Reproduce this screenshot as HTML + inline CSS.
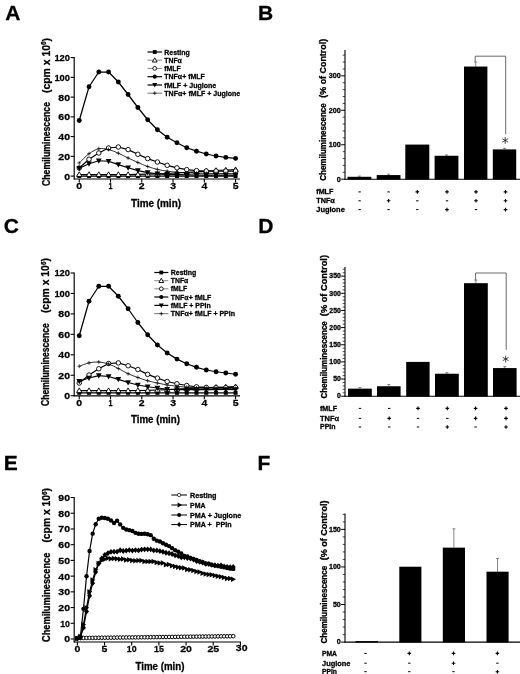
<!DOCTYPE html>
<html><head><meta charset="utf-8"><title>Figure</title>
<style>html,body{margin:0;padding:0;background:#fff}svg{display:block}</style>
</head><body>
<svg width="520" height="674" viewBox="0 0 520 674" font-family="Liberation Sans, sans-serif" font-weight="bold" fill="#000">
<defs><filter id="soft" x="-2%" y="-2%" width="104%" height="104%"><feGaussianBlur stdDeviation="0.38"/></filter></defs>
<rect width="520" height="674" fill="#fff"/>
<g filter="url(#soft)" stroke-linejoin="round">
<style>text{stroke:#000;stroke-width:0.3px;paint-order:stroke}</style>
<text transform="translate(5.30,20.00) scale(1,1)" font-size="21.0" text-anchor="start" >A</text>
<text transform="translate(258.00,20.00) scale(1,1)" font-size="21.0" text-anchor="start" >B</text>
<text transform="translate(3.80,233.00) scale(1,1)" font-size="21.0" text-anchor="start" >C</text>
<text transform="translate(258.20,232.60) scale(1,1)" font-size="21.0" text-anchor="start" >D</text>
<text transform="translate(3.80,470.20) scale(1,1)" font-size="21.0" text-anchor="start" >E</text>
<text transform="translate(257.50,469.80) scale(1,1)" font-size="21.0" text-anchor="start" >F</text>
<line x1="74.20" y1="57.00" x2="74.20" y2="179.50" stroke="#000" stroke-width="1.15"/>
<line x1="73.70" y1="179.00" x2="240.00" y2="179.00" stroke="#000" stroke-width="1.15"/>
<line x1="70.60" y1="176.10" x2="74.20" y2="176.10" stroke="#000" stroke-width="1.1"/>
<text transform="translate(70.00,179.50) scale(1,0.93)" font-size="10.5" text-anchor="end" textLength="5.84" lengthAdjust="spacingAndGlyphs" >0</text>
<line x1="70.60" y1="156.35" x2="74.20" y2="156.35" stroke="#000" stroke-width="1.1"/>
<text transform="translate(70.00,159.75) scale(1,0.93)" font-size="10.5" text-anchor="end" textLength="11.68" lengthAdjust="spacingAndGlyphs" >20</text>
<line x1="70.60" y1="136.60" x2="74.20" y2="136.60" stroke="#000" stroke-width="1.1"/>
<text transform="translate(70.00,140.00) scale(1,0.93)" font-size="10.5" text-anchor="end" textLength="11.68" lengthAdjust="spacingAndGlyphs" >40</text>
<line x1="70.60" y1="116.85" x2="74.20" y2="116.85" stroke="#000" stroke-width="1.1"/>
<text transform="translate(70.00,120.25) scale(1,0.93)" font-size="10.5" text-anchor="end" textLength="11.68" lengthAdjust="spacingAndGlyphs" >60</text>
<line x1="70.60" y1="97.10" x2="74.20" y2="97.10" stroke="#000" stroke-width="1.1"/>
<text transform="translate(70.00,100.50) scale(1,0.93)" font-size="10.5" text-anchor="end" textLength="11.68" lengthAdjust="spacingAndGlyphs" >80</text>
<line x1="70.60" y1="77.35" x2="74.20" y2="77.35" stroke="#000" stroke-width="1.1"/>
<text transform="translate(70.00,80.75) scale(1,0.93)" font-size="10.5" text-anchor="end" textLength="15.62" lengthAdjust="spacingAndGlyphs" >100</text>
<line x1="70.60" y1="57.60" x2="74.20" y2="57.60" stroke="#000" stroke-width="1.1"/>
<text transform="translate(70.00,61.00) scale(1,0.93)" font-size="10.5" text-anchor="end" textLength="15.62" lengthAdjust="spacingAndGlyphs" >120</text>
<line x1="79.25" y1="179.00" x2="79.25" y2="182.50" stroke="#000" stroke-width="1.1"/>
<text transform="translate(79.25,188.90) scale(1,0.93)" font-size="10.5" text-anchor="middle" textLength="5.84" lengthAdjust="spacingAndGlyphs" >0</text>
<line x1="110.51" y1="179.00" x2="110.51" y2="182.50" stroke="#000" stroke-width="1.1"/>
<text transform="translate(110.51,188.90) scale(1,0.93)" font-size="10.5" text-anchor="middle" textLength="3.95" lengthAdjust="spacingAndGlyphs" >1</text>
<line x1="141.78" y1="179.00" x2="141.78" y2="182.50" stroke="#000" stroke-width="1.1"/>
<text transform="translate(141.78,188.90) scale(1,0.93)" font-size="10.5" text-anchor="middle" textLength="5.84" lengthAdjust="spacingAndGlyphs" >2</text>
<line x1="173.04" y1="179.00" x2="173.04" y2="182.50" stroke="#000" stroke-width="1.1"/>
<text transform="translate(173.04,188.90) scale(1,0.93)" font-size="10.5" text-anchor="middle" textLength="5.84" lengthAdjust="spacingAndGlyphs" >3</text>
<line x1="204.31" y1="179.00" x2="204.31" y2="182.50" stroke="#000" stroke-width="1.1"/>
<text transform="translate(204.31,188.90) scale(1,0.93)" font-size="10.5" text-anchor="middle" textLength="5.84" lengthAdjust="spacingAndGlyphs" >4</text>
<line x1="235.57" y1="179.00" x2="235.57" y2="182.50" stroke="#000" stroke-width="1.1"/>
<text transform="translate(235.57,188.90) scale(1,0.93)" font-size="10.5" text-anchor="middle" textLength="5.84" lengthAdjust="spacingAndGlyphs" >5</text>
<polyline points="79.25,176.00 89.02,176.00 98.79,176.00 108.56,176.00 118.33,176.00 128.10,176.00 137.87,176.00 147.64,176.00 157.41,176.00 167.18,176.00 176.95,176.00 186.72,176.00 196.49,176.00 206.26,176.00 216.03,176.00 225.80,176.00 235.57,176.00" fill="none" stroke="#000" stroke-width="1.25" stroke-linejoin="round"/>
<rect x="77.25" y="174.00" width="4.0" height="4.0" fill="#000"/>
<rect x="87.02" y="174.00" width="4.0" height="4.0" fill="#000"/>
<rect x="96.79" y="174.00" width="4.0" height="4.0" fill="#000"/>
<rect x="106.56" y="174.00" width="4.0" height="4.0" fill="#000"/>
<rect x="116.33" y="174.00" width="4.0" height="4.0" fill="#000"/>
<rect x="126.10" y="174.00" width="4.0" height="4.0" fill="#000"/>
<rect x="135.87" y="174.00" width="4.0" height="4.0" fill="#000"/>
<rect x="145.64" y="174.00" width="4.0" height="4.0" fill="#000"/>
<rect x="155.41" y="174.00" width="4.0" height="4.0" fill="#000"/>
<rect x="165.18" y="174.00" width="4.0" height="4.0" fill="#000"/>
<rect x="174.95" y="174.00" width="4.0" height="4.0" fill="#000"/>
<rect x="184.72" y="174.00" width="4.0" height="4.0" fill="#000"/>
<rect x="194.49" y="174.00" width="4.0" height="4.0" fill="#000"/>
<rect x="204.26" y="174.00" width="4.0" height="4.0" fill="#000"/>
<rect x="214.03" y="174.00" width="4.0" height="4.0" fill="#000"/>
<rect x="223.80" y="174.00" width="4.0" height="4.0" fill="#000"/>
<rect x="233.57" y="174.00" width="4.0" height="4.0" fill="#000"/>
<polyline points="79.25,174.50 89.02,174.50 98.79,174.50 108.56,174.50 118.33,174.50 128.10,174.50 137.87,174.40 147.64,174.20 157.41,173.90 167.18,173.50 176.95,173.00 186.72,172.40 196.49,171.80 206.26,171.10 216.03,170.50 225.80,170.00 235.57,169.60" fill="none" stroke="#000" stroke-width="1.25" stroke-linejoin="round"/>
<path d="M79.25,171.80 L81.95,176.53 L76.55,176.53 Z" fill="#fff" stroke="#000" stroke-width="0.9"/>
<path d="M89.02,171.80 L91.72,176.53 L86.32,176.53 Z" fill="#fff" stroke="#000" stroke-width="0.9"/>
<path d="M98.79,171.80 L101.49,176.53 L96.09,176.53 Z" fill="#fff" stroke="#000" stroke-width="0.9"/>
<path d="M108.56,171.80 L111.26,176.53 L105.86,176.53 Z" fill="#fff" stroke="#000" stroke-width="0.9"/>
<path d="M118.33,171.80 L121.03,176.53 L115.63,176.53 Z" fill="#fff" stroke="#000" stroke-width="0.9"/>
<path d="M128.10,171.80 L130.80,176.53 L125.40,176.53 Z" fill="#fff" stroke="#000" stroke-width="0.9"/>
<path d="M137.87,171.70 L140.57,176.43 L135.17,176.43 Z" fill="#fff" stroke="#000" stroke-width="0.9"/>
<path d="M147.64,171.50 L150.34,176.22 L144.94,176.22 Z" fill="#fff" stroke="#000" stroke-width="0.9"/>
<path d="M157.41,171.20 L160.11,175.93 L154.71,175.93 Z" fill="#fff" stroke="#000" stroke-width="0.9"/>
<path d="M167.18,170.80 L169.88,175.53 L164.48,175.53 Z" fill="#fff" stroke="#000" stroke-width="0.9"/>
<path d="M176.95,170.30 L179.65,175.03 L174.25,175.03 Z" fill="#fff" stroke="#000" stroke-width="0.9"/>
<path d="M186.72,169.70 L189.42,174.43 L184.02,174.43 Z" fill="#fff" stroke="#000" stroke-width="0.9"/>
<path d="M196.49,169.10 L199.19,173.83 L193.79,173.83 Z" fill="#fff" stroke="#000" stroke-width="0.9"/>
<path d="M206.26,168.40 L208.96,173.12 L203.56,173.12 Z" fill="#fff" stroke="#000" stroke-width="0.9"/>
<path d="M216.03,167.80 L218.73,172.53 L213.33,172.53 Z" fill="#fff" stroke="#000" stroke-width="0.9"/>
<path d="M225.80,167.30 L228.50,172.03 L223.10,172.03 Z" fill="#fff" stroke="#000" stroke-width="0.9"/>
<path d="M235.57,166.90 L238.27,171.62 L232.87,171.62 Z" fill="#fff" stroke="#000" stroke-width="0.9"/>
<polyline points="79.25,168.00 89.02,159.25 98.79,153.00 108.56,148.00 118.33,147.00 128.10,149.60 137.87,154.30 147.64,158.60 157.41,162.00 167.18,165.30 176.95,167.80 186.72,169.60 196.49,170.60 206.26,171.00 216.03,171.00 225.80,171.00 235.57,171.00" fill="none" stroke="#000" stroke-width="1.25" stroke-linejoin="round"/>
<circle cx="79.25" cy="168.00" r="2.25" fill="#fff" stroke="#000" stroke-width="0.9"/>
<circle cx="89.02" cy="159.25" r="2.25" fill="#fff" stroke="#000" stroke-width="0.9"/>
<circle cx="98.79" cy="153.00" r="2.25" fill="#fff" stroke="#000" stroke-width="0.9"/>
<circle cx="108.56" cy="148.00" r="2.25" fill="#fff" stroke="#000" stroke-width="0.9"/>
<circle cx="118.33" cy="147.00" r="2.25" fill="#fff" stroke="#000" stroke-width="0.9"/>
<circle cx="128.10" cy="149.60" r="2.25" fill="#fff" stroke="#000" stroke-width="0.9"/>
<circle cx="137.87" cy="154.30" r="2.25" fill="#fff" stroke="#000" stroke-width="0.9"/>
<circle cx="147.64" cy="158.60" r="2.25" fill="#fff" stroke="#000" stroke-width="0.9"/>
<circle cx="157.41" cy="162.00" r="2.25" fill="#fff" stroke="#000" stroke-width="0.9"/>
<circle cx="167.18" cy="165.30" r="2.25" fill="#fff" stroke="#000" stroke-width="0.9"/>
<circle cx="176.95" cy="167.80" r="2.25" fill="#fff" stroke="#000" stroke-width="0.9"/>
<circle cx="186.72" cy="169.60" r="2.25" fill="#fff" stroke="#000" stroke-width="0.9"/>
<circle cx="196.49" cy="170.60" r="2.25" fill="#fff" stroke="#000" stroke-width="0.9"/>
<circle cx="206.26" cy="171.00" r="2.25" fill="#fff" stroke="#000" stroke-width="0.9"/>
<circle cx="216.03" cy="171.00" r="2.25" fill="#fff" stroke="#000" stroke-width="0.9"/>
<circle cx="225.80" cy="171.00" r="2.25" fill="#fff" stroke="#000" stroke-width="0.9"/>
<circle cx="235.57" cy="171.00" r="2.25" fill="#fff" stroke="#000" stroke-width="0.9"/>
<polyline points="79.25,120.50 89.02,86.75 98.79,72.00 108.56,72.00 118.33,82.00 128.10,94.50 137.87,107.50 147.64,119.75 157.41,129.75 167.18,137.25 176.95,142.75 186.72,147.75 196.49,151.20 206.26,154.00 216.03,156.00 225.80,157.40 235.57,158.40" fill="none" stroke="#000" stroke-width="1.25" stroke-linejoin="round"/>
<circle cx="79.25" cy="120.50" r="2.45" fill="#000"/>
<circle cx="89.02" cy="86.75" r="2.45" fill="#000"/>
<circle cx="98.79" cy="72.00" r="2.45" fill="#000"/>
<circle cx="108.56" cy="72.00" r="2.45" fill="#000"/>
<circle cx="118.33" cy="82.00" r="2.45" fill="#000"/>
<circle cx="128.10" cy="94.50" r="2.45" fill="#000"/>
<circle cx="137.87" cy="107.50" r="2.45" fill="#000"/>
<circle cx="147.64" cy="119.75" r="2.45" fill="#000"/>
<circle cx="157.41" cy="129.75" r="2.45" fill="#000"/>
<circle cx="167.18" cy="137.25" r="2.45" fill="#000"/>
<circle cx="176.95" cy="142.75" r="2.45" fill="#000"/>
<circle cx="186.72" cy="147.75" r="2.45" fill="#000"/>
<circle cx="196.49" cy="151.20" r="2.45" fill="#000"/>
<circle cx="206.26" cy="154.00" r="2.45" fill="#000"/>
<circle cx="216.03" cy="156.00" r="2.45" fill="#000"/>
<circle cx="225.80" cy="157.40" r="2.45" fill="#000"/>
<circle cx="235.57" cy="158.40" r="2.45" fill="#000"/>
<polyline points="79.25,168.30 89.02,163.75 98.79,160.75 108.56,161.25 118.33,164.60 128.10,167.75 137.87,170.60 147.64,172.60 157.41,173.80 167.18,174.40 176.95,174.70 186.72,174.90 196.49,175.00 206.26,175.00 216.03,175.00 225.80,175.00 235.57,175.00" fill="none" stroke="#000" stroke-width="1.25" stroke-linejoin="round"/>
<path d="M79.25,171.20 L82.15,165.98 L76.35,165.98 Z" fill="#000"/>
<path d="M89.02,166.65 L91.92,161.43 L86.12,161.43 Z" fill="#000"/>
<path d="M98.79,163.65 L101.69,158.43 L95.89,158.43 Z" fill="#000"/>
<path d="M108.56,164.15 L111.46,158.93 L105.66,158.93 Z" fill="#000"/>
<path d="M118.33,167.50 L121.23,162.28 L115.43,162.28 Z" fill="#000"/>
<path d="M128.10,170.65 L131.00,165.43 L125.20,165.43 Z" fill="#000"/>
<path d="M137.87,173.50 L140.77,168.28 L134.97,168.28 Z" fill="#000"/>
<path d="M147.64,175.50 L150.54,170.28 L144.74,170.28 Z" fill="#000"/>
<path d="M157.41,176.70 L160.31,171.48 L154.51,171.48 Z" fill="#000"/>
<path d="M167.18,177.30 L170.08,172.08 L164.28,172.08 Z" fill="#000"/>
<path d="M176.95,177.60 L179.85,172.38 L174.05,172.38 Z" fill="#000"/>
<path d="M186.72,177.80 L189.62,172.58 L183.82,172.58 Z" fill="#000"/>
<path d="M196.49,177.90 L199.39,172.68 L193.59,172.68 Z" fill="#000"/>
<path d="M206.26,177.90 L209.16,172.68 L203.36,172.68 Z" fill="#000"/>
<path d="M216.03,177.90 L218.93,172.68 L213.13,172.68 Z" fill="#000"/>
<path d="M225.80,177.90 L228.70,172.68 L222.90,172.68 Z" fill="#000"/>
<path d="M235.57,177.90 L238.47,172.68 L232.67,172.68 Z" fill="#000"/>
<path d="M79.25,163.00 C80.88,161.46 85.76,156.12 89.02,153.75 C92.28,151.38 95.53,149.46 98.79,148.75 C102.05,148.04 105.30,148.76 108.56,149.50 C111.82,150.24 115.07,151.78 118.33,153.20 C121.59,154.62 124.84,156.45 128.10,158.00 C131.36,159.55 134.61,161.08 137.87,162.50 C141.13,163.92 144.38,165.35 147.64,166.50 C150.90,167.65 154.15,168.62 157.41,169.40 C160.67,170.18 163.92,170.73 167.18,171.20 C170.44,171.67 173.69,171.93 176.95,172.20 C180.21,172.47 183.46,172.63 186.72,172.80 C189.98,172.97 193.23,173.10 196.49,173.20 C199.75,173.30 203.00,173.35 206.26,173.40 C209.52,173.45 212.77,173.48 216.03,173.50 C219.29,173.52 222.54,173.50 225.80,173.50 C229.06,173.50 233.94,173.50 235.57,173.50" fill="none" stroke="#000" stroke-width="0.8"/>
<path d="M77.35,163.00 H81.15 M79.25,161.10 V164.90" stroke="#000" stroke-width="0.7" fill="none"/>
<path d="M87.12,153.75 H90.92 M89.02,151.85 V155.65" stroke="#000" stroke-width="0.7" fill="none"/>
<path d="M96.89,148.75 H100.69 M98.79,146.85 V150.65" stroke="#000" stroke-width="0.7" fill="none"/>
<path d="M106.66,149.50 H110.46 M108.56,147.60 V151.40" stroke="#000" stroke-width="0.7" fill="none"/>
<path d="M116.43,153.20 H120.23 M118.33,151.30 V155.10" stroke="#000" stroke-width="0.7" fill="none"/>
<path d="M126.20,158.00 H130.00 M128.10,156.10 V159.90" stroke="#000" stroke-width="0.7" fill="none"/>
<path d="M135.97,162.50 H139.77 M137.87,160.60 V164.40" stroke="#000" stroke-width="0.7" fill="none"/>
<path d="M145.74,166.50 H149.54 M147.64,164.60 V168.40" stroke="#000" stroke-width="0.7" fill="none"/>
<path d="M155.51,169.40 H159.31 M157.41,167.50 V171.30" stroke="#000" stroke-width="0.7" fill="none"/>
<path d="M165.28,171.20 H169.08 M167.18,169.30 V173.10" stroke="#000" stroke-width="0.7" fill="none"/>
<path d="M175.05,172.20 H178.85 M176.95,170.30 V174.10" stroke="#000" stroke-width="0.7" fill="none"/>
<path d="M184.82,172.80 H188.62 M186.72,170.90 V174.70" stroke="#000" stroke-width="0.7" fill="none"/>
<path d="M194.59,173.20 H198.39 M196.49,171.30 V175.10" stroke="#000" stroke-width="0.7" fill="none"/>
<path d="M204.36,173.40 H208.16 M206.26,171.50 V175.30" stroke="#000" stroke-width="0.7" fill="none"/>
<path d="M214.13,173.50 H217.93 M216.03,171.60 V175.40" stroke="#000" stroke-width="0.7" fill="none"/>
<path d="M223.90,173.50 H227.70 M225.80,171.60 V175.40" stroke="#000" stroke-width="0.7" fill="none"/>
<path d="M233.67,173.50 H237.47 M235.57,171.60 V175.40" stroke="#000" stroke-width="0.7" fill="none"/>
<line x1="147.50" y1="52.00" x2="162.00" y2="52.00" stroke="#000" stroke-width="1.2"/>
<rect x="152.85" y="50.10" width="3.8" height="3.8" fill="#000"/>
<text transform="translate(164.30,54.50) scale(1,0.93)" font-size="7.7" text-anchor="start" textLength="25.50" lengthAdjust="spacingAndGlyphs" >Resting</text>
<line x1="147.50" y1="60.20" x2="162.00" y2="60.20" stroke="#555" stroke-width="0.7"/>
<path d="M154.75,57.80 L157.15,62.00 L152.35,62.00 Z" fill="#fff" stroke="#000" stroke-width="0.9"/>
<text transform="translate(164.30,62.70) scale(1,0.93)" font-size="7.7" text-anchor="start" textLength="17.50" lengthAdjust="spacingAndGlyphs" >TNF&#945;</text>
<line x1="147.50" y1="68.40" x2="162.00" y2="68.40" stroke="#555" stroke-width="0.7"/>
<circle cx="154.75" cy="68.40" r="1.9" fill="#fff" stroke="#000" stroke-width="0.9"/>
<text transform="translate(164.30,70.90) scale(1,0.93)" font-size="7.7" text-anchor="start" textLength="16.50" lengthAdjust="spacingAndGlyphs" >fMLF</text>
<line x1="147.50" y1="76.70" x2="162.00" y2="76.70" stroke="#000" stroke-width="1.2"/>
<circle cx="154.75" cy="76.70" r="2.1" fill="#000"/>
<text transform="translate(164.30,79.20) scale(1,0.93)" font-size="7.7" text-anchor="start" textLength="40.50" lengthAdjust="spacingAndGlyphs" >TNF&#945;+ fMLF</text>
<line x1="147.50" y1="85.00" x2="162.00" y2="85.00" stroke="#000" stroke-width="1.2"/>
<path d="M154.75,87.50 L157.25,83.00 L152.25,83.00 Z" fill="#000"/>
<text transform="translate(164.30,87.50) scale(1,0.93)" font-size="7.7" text-anchor="start" textLength="52.00" lengthAdjust="spacingAndGlyphs" >fMLF + Juglone</text>
<line x1="147.50" y1="93.20" x2="162.00" y2="93.20" stroke="#333" stroke-width="0.7"/>
<path d="M152.85,93.20 H156.65 M154.75,91.30 V95.10" stroke="#000" stroke-width="0.7" fill="none"/>
<text transform="translate(164.30,95.70) scale(1,0.93)" font-size="7.7" text-anchor="start" textLength="76.00" lengthAdjust="spacingAndGlyphs" >TNF&#945;+ fMLF + Juglone</text>
<text transform="translate(49.70,186.00) rotate(-90)" font-size="10.4" textLength="84.00" lengthAdjust="spacingAndGlyphs" >Chemiluminescence</text>
<text transform="translate(49.70,93.00) rotate(-90)" font-size="10.4" textLength="55.00" lengthAdjust="spacingAndGlyphs" >(cpm x 10<tspan font-size="6.3" dy="-3.5">6</tspan><tspan dy="3.5">)</tspan></text>
<text transform="translate(156.00,206.90) scale(1,1)" font-size="10.6" text-anchor="middle" textLength="50.00" lengthAdjust="spacingAndGlyphs" >Time (min)</text>
<line x1="74.20" y1="272.50" x2="74.20" y2="396.30" stroke="#000" stroke-width="1.15"/>
<line x1="73.70" y1="395.80" x2="240.00" y2="395.80" stroke="#000" stroke-width="1.15"/>
<line x1="70.60" y1="395.70" x2="74.20" y2="395.70" stroke="#000" stroke-width="1.1"/>
<text transform="translate(70.00,399.10) scale(1,0.93)" font-size="10.5" text-anchor="end" textLength="5.84" lengthAdjust="spacingAndGlyphs" >0</text>
<line x1="70.60" y1="375.25" x2="74.20" y2="375.25" stroke="#000" stroke-width="1.1"/>
<text transform="translate(70.00,378.65) scale(1,0.93)" font-size="10.5" text-anchor="end" textLength="11.68" lengthAdjust="spacingAndGlyphs" >20</text>
<line x1="70.60" y1="354.80" x2="74.20" y2="354.80" stroke="#000" stroke-width="1.1"/>
<text transform="translate(70.00,358.20) scale(1,0.93)" font-size="10.5" text-anchor="end" textLength="11.68" lengthAdjust="spacingAndGlyphs" >40</text>
<line x1="70.60" y1="334.35" x2="74.20" y2="334.35" stroke="#000" stroke-width="1.1"/>
<text transform="translate(70.00,337.75) scale(1,0.93)" font-size="10.5" text-anchor="end" textLength="11.68" lengthAdjust="spacingAndGlyphs" >60</text>
<line x1="70.60" y1="313.90" x2="74.20" y2="313.90" stroke="#000" stroke-width="1.1"/>
<text transform="translate(70.00,317.30) scale(1,0.93)" font-size="10.5" text-anchor="end" textLength="11.68" lengthAdjust="spacingAndGlyphs" >80</text>
<line x1="70.60" y1="293.45" x2="74.20" y2="293.45" stroke="#000" stroke-width="1.1"/>
<text transform="translate(70.00,296.85) scale(1,0.93)" font-size="10.5" text-anchor="end" textLength="15.62" lengthAdjust="spacingAndGlyphs" >100</text>
<line x1="70.60" y1="273.00" x2="74.20" y2="273.00" stroke="#000" stroke-width="1.1"/>
<text transform="translate(70.00,276.40) scale(1,0.93)" font-size="10.5" text-anchor="end" textLength="15.62" lengthAdjust="spacingAndGlyphs" >120</text>
<line x1="79.25" y1="395.80" x2="79.25" y2="399.30" stroke="#000" stroke-width="1.1"/>
<text transform="translate(79.25,405.70) scale(1,0.93)" font-size="10.5" text-anchor="middle" textLength="5.84" lengthAdjust="spacingAndGlyphs" >0</text>
<line x1="110.51" y1="395.80" x2="110.51" y2="399.30" stroke="#000" stroke-width="1.1"/>
<text transform="translate(110.51,405.70) scale(1,0.93)" font-size="10.5" text-anchor="middle" textLength="3.95" lengthAdjust="spacingAndGlyphs" >1</text>
<line x1="141.78" y1="395.80" x2="141.78" y2="399.30" stroke="#000" stroke-width="1.1"/>
<text transform="translate(141.78,405.70) scale(1,0.93)" font-size="10.5" text-anchor="middle" textLength="5.84" lengthAdjust="spacingAndGlyphs" >2</text>
<line x1="173.04" y1="395.80" x2="173.04" y2="399.30" stroke="#000" stroke-width="1.1"/>
<text transform="translate(173.04,405.70) scale(1,0.93)" font-size="10.5" text-anchor="middle" textLength="5.84" lengthAdjust="spacingAndGlyphs" >3</text>
<line x1="204.31" y1="395.80" x2="204.31" y2="399.30" stroke="#000" stroke-width="1.1"/>
<text transform="translate(204.31,405.70) scale(1,0.93)" font-size="10.5" text-anchor="middle" textLength="5.84" lengthAdjust="spacingAndGlyphs" >4</text>
<line x1="235.57" y1="395.80" x2="235.57" y2="399.30" stroke="#000" stroke-width="1.1"/>
<text transform="translate(235.57,405.70) scale(1,0.93)" font-size="10.5" text-anchor="middle" textLength="5.84" lengthAdjust="spacingAndGlyphs" >5</text>
<polyline points="79.25,392.80 89.02,392.80 98.79,392.80 108.56,392.80 118.33,392.80 128.10,392.80 137.87,392.80 147.64,392.80 157.41,392.80 167.18,392.80 176.95,392.80 186.72,392.80 196.49,392.80 206.26,392.80 216.03,392.80 225.80,392.80 235.57,392.80" fill="none" stroke="#000" stroke-width="1.25" stroke-linejoin="round"/>
<rect x="77.25" y="390.80" width="4.0" height="4.0" fill="#000"/>
<rect x="87.02" y="390.80" width="4.0" height="4.0" fill="#000"/>
<rect x="96.79" y="390.80" width="4.0" height="4.0" fill="#000"/>
<rect x="106.56" y="390.80" width="4.0" height="4.0" fill="#000"/>
<rect x="116.33" y="390.80" width="4.0" height="4.0" fill="#000"/>
<rect x="126.10" y="390.80" width="4.0" height="4.0" fill="#000"/>
<rect x="135.87" y="390.80" width="4.0" height="4.0" fill="#000"/>
<rect x="145.64" y="390.80" width="4.0" height="4.0" fill="#000"/>
<rect x="155.41" y="390.80" width="4.0" height="4.0" fill="#000"/>
<rect x="165.18" y="390.80" width="4.0" height="4.0" fill="#000"/>
<rect x="174.95" y="390.80" width="4.0" height="4.0" fill="#000"/>
<rect x="184.72" y="390.80" width="4.0" height="4.0" fill="#000"/>
<rect x="194.49" y="390.80" width="4.0" height="4.0" fill="#000"/>
<rect x="204.26" y="390.80" width="4.0" height="4.0" fill="#000"/>
<rect x="214.03" y="390.80" width="4.0" height="4.0" fill="#000"/>
<rect x="223.80" y="390.80" width="4.0" height="4.0" fill="#000"/>
<rect x="233.57" y="390.80" width="4.0" height="4.0" fill="#000"/>
<polyline points="79.25,390.60 89.02,390.60 98.79,390.60 108.56,390.60 118.33,390.60 128.10,390.60 137.87,390.50 147.64,390.30 157.41,390.00 167.18,389.60 176.95,389.20 186.72,388.70 196.49,388.20 206.26,387.70 216.03,387.30 225.80,387.00 235.57,386.70" fill="none" stroke="#000" stroke-width="1.25" stroke-linejoin="round"/>
<path d="M79.25,387.90 L81.95,392.62 L76.55,392.62 Z" fill="#fff" stroke="#000" stroke-width="0.9"/>
<path d="M89.02,387.90 L91.72,392.62 L86.32,392.62 Z" fill="#fff" stroke="#000" stroke-width="0.9"/>
<path d="M98.79,387.90 L101.49,392.62 L96.09,392.62 Z" fill="#fff" stroke="#000" stroke-width="0.9"/>
<path d="M108.56,387.90 L111.26,392.62 L105.86,392.62 Z" fill="#fff" stroke="#000" stroke-width="0.9"/>
<path d="M118.33,387.90 L121.03,392.62 L115.63,392.62 Z" fill="#fff" stroke="#000" stroke-width="0.9"/>
<path d="M128.10,387.90 L130.80,392.62 L125.40,392.62 Z" fill="#fff" stroke="#000" stroke-width="0.9"/>
<path d="M137.87,387.80 L140.57,392.52 L135.17,392.52 Z" fill="#fff" stroke="#000" stroke-width="0.9"/>
<path d="M147.64,387.60 L150.34,392.32 L144.94,392.32 Z" fill="#fff" stroke="#000" stroke-width="0.9"/>
<path d="M157.41,387.30 L160.11,392.02 L154.71,392.02 Z" fill="#fff" stroke="#000" stroke-width="0.9"/>
<path d="M167.18,386.90 L169.88,391.62 L164.48,391.62 Z" fill="#fff" stroke="#000" stroke-width="0.9"/>
<path d="M176.95,386.50 L179.65,391.22 L174.25,391.22 Z" fill="#fff" stroke="#000" stroke-width="0.9"/>
<path d="M186.72,386.00 L189.42,390.72 L184.02,390.72 Z" fill="#fff" stroke="#000" stroke-width="0.9"/>
<path d="M196.49,385.50 L199.19,390.22 L193.79,390.22 Z" fill="#fff" stroke="#000" stroke-width="0.9"/>
<path d="M206.26,385.00 L208.96,389.72 L203.56,389.72 Z" fill="#fff" stroke="#000" stroke-width="0.9"/>
<path d="M216.03,384.60 L218.73,389.32 L213.33,389.32 Z" fill="#fff" stroke="#000" stroke-width="0.9"/>
<path d="M225.80,384.30 L228.50,389.02 L223.10,389.02 Z" fill="#fff" stroke="#000" stroke-width="0.9"/>
<path d="M235.57,384.00 L238.27,388.72 L232.87,388.72 Z" fill="#fff" stroke="#000" stroke-width="0.9"/>
<polyline points="79.25,383.00 89.02,375.00 98.79,368.75 108.56,363.50 118.33,362.90 128.10,365.75 137.87,369.50 147.64,374.40 157.41,378.10 167.18,381.50 176.95,383.75 186.72,385.50 196.49,386.80 206.26,387.40 216.03,387.60 225.80,387.60 235.57,387.50" fill="none" stroke="#000" stroke-width="1.25" stroke-linejoin="round"/>
<circle cx="79.25" cy="383.00" r="2.25" fill="#fff" stroke="#000" stroke-width="0.9"/>
<circle cx="89.02" cy="375.00" r="2.25" fill="#fff" stroke="#000" stroke-width="0.9"/>
<circle cx="98.79" cy="368.75" r="2.25" fill="#fff" stroke="#000" stroke-width="0.9"/>
<circle cx="108.56" cy="363.50" r="2.25" fill="#fff" stroke="#000" stroke-width="0.9"/>
<circle cx="118.33" cy="362.90" r="2.25" fill="#fff" stroke="#000" stroke-width="0.9"/>
<circle cx="128.10" cy="365.75" r="2.25" fill="#fff" stroke="#000" stroke-width="0.9"/>
<circle cx="137.87" cy="369.50" r="2.25" fill="#fff" stroke="#000" stroke-width="0.9"/>
<circle cx="147.64" cy="374.40" r="2.25" fill="#fff" stroke="#000" stroke-width="0.9"/>
<circle cx="157.41" cy="378.10" r="2.25" fill="#fff" stroke="#000" stroke-width="0.9"/>
<circle cx="167.18" cy="381.50" r="2.25" fill="#fff" stroke="#000" stroke-width="0.9"/>
<circle cx="176.95" cy="383.75" r="2.25" fill="#fff" stroke="#000" stroke-width="0.9"/>
<circle cx="186.72" cy="385.50" r="2.25" fill="#fff" stroke="#000" stroke-width="0.9"/>
<circle cx="196.49" cy="386.80" r="2.25" fill="#fff" stroke="#000" stroke-width="0.9"/>
<circle cx="206.26" cy="387.40" r="2.25" fill="#fff" stroke="#000" stroke-width="0.9"/>
<circle cx="216.03" cy="387.60" r="2.25" fill="#fff" stroke="#000" stroke-width="0.9"/>
<circle cx="225.80" cy="387.60" r="2.25" fill="#fff" stroke="#000" stroke-width="0.9"/>
<circle cx="235.57" cy="387.50" r="2.25" fill="#fff" stroke="#000" stroke-width="0.9"/>
<polyline points="79.25,335.75 89.02,301.25 98.79,286.25 108.56,286.25 118.33,296.25 128.10,308.75 137.87,322.50 147.64,334.80 157.41,345.00 167.18,353.00 176.95,359.10 186.72,363.75 196.49,367.30 206.26,370.00 216.03,371.75 225.80,373.00 235.57,374.25" fill="none" stroke="#000" stroke-width="1.25" stroke-linejoin="round"/>
<circle cx="79.25" cy="335.75" r="2.45" fill="#000"/>
<circle cx="89.02" cy="301.25" r="2.45" fill="#000"/>
<circle cx="98.79" cy="286.25" r="2.45" fill="#000"/>
<circle cx="108.56" cy="286.25" r="2.45" fill="#000"/>
<circle cx="118.33" cy="296.25" r="2.45" fill="#000"/>
<circle cx="128.10" cy="308.75" r="2.45" fill="#000"/>
<circle cx="137.87" cy="322.50" r="2.45" fill="#000"/>
<circle cx="147.64" cy="334.80" r="2.45" fill="#000"/>
<circle cx="157.41" cy="345.00" r="2.45" fill="#000"/>
<circle cx="167.18" cy="353.00" r="2.45" fill="#000"/>
<circle cx="176.95" cy="359.10" r="2.45" fill="#000"/>
<circle cx="186.72" cy="363.75" r="2.45" fill="#000"/>
<circle cx="196.49" cy="367.30" r="2.45" fill="#000"/>
<circle cx="206.26" cy="370.00" r="2.45" fill="#000"/>
<circle cx="216.03" cy="371.75" r="2.45" fill="#000"/>
<circle cx="225.80" cy="373.00" r="2.45" fill="#000"/>
<circle cx="235.57" cy="374.25" r="2.45" fill="#000"/>
<polyline points="79.25,381.25 89.02,378.00 98.79,375.60 108.56,376.50 118.33,379.30 128.10,382.50 137.87,385.00 147.64,386.75 157.41,388.00 167.18,389.25 176.95,389.60 186.72,389.70 196.49,389.70 206.26,389.60 216.03,389.60 225.80,389.50 235.57,389.50" fill="none" stroke="#000" stroke-width="1.25" stroke-linejoin="round"/>
<path d="M79.25,384.15 L82.15,378.93 L76.35,378.93 Z" fill="#000"/>
<path d="M89.02,380.90 L91.92,375.68 L86.12,375.68 Z" fill="#000"/>
<path d="M98.79,378.50 L101.69,373.28 L95.89,373.28 Z" fill="#000"/>
<path d="M108.56,379.40 L111.46,374.18 L105.66,374.18 Z" fill="#000"/>
<path d="M118.33,382.20 L121.23,376.98 L115.43,376.98 Z" fill="#000"/>
<path d="M128.10,385.40 L131.00,380.18 L125.20,380.18 Z" fill="#000"/>
<path d="M137.87,387.90 L140.77,382.68 L134.97,382.68 Z" fill="#000"/>
<path d="M147.64,389.65 L150.54,384.43 L144.74,384.43 Z" fill="#000"/>
<path d="M157.41,390.90 L160.31,385.68 L154.51,385.68 Z" fill="#000"/>
<path d="M167.18,392.15 L170.08,386.93 L164.28,386.93 Z" fill="#000"/>
<path d="M176.95,392.50 L179.85,387.28 L174.05,387.28 Z" fill="#000"/>
<path d="M186.72,392.60 L189.62,387.38 L183.82,387.38 Z" fill="#000"/>
<path d="M196.49,392.60 L199.39,387.38 L193.59,387.38 Z" fill="#000"/>
<path d="M206.26,392.50 L209.16,387.28 L203.36,387.28 Z" fill="#000"/>
<path d="M216.03,392.50 L218.93,387.28 L213.13,387.28 Z" fill="#000"/>
<path d="M225.80,392.40 L228.70,387.18 L222.90,387.18 Z" fill="#000"/>
<path d="M235.57,392.40 L238.47,387.18 L232.67,387.18 Z" fill="#000"/>
<path d="M79.25,366.25 C80.88,365.69 85.76,363.61 89.02,362.90 C92.28,362.19 95.53,361.82 98.79,362.00 C102.05,362.18 105.30,362.92 108.56,364.00 C111.82,365.08 115.07,366.88 118.33,368.50 C121.59,370.12 124.84,372.25 128.10,373.75 C131.36,375.25 134.61,376.33 137.87,377.50 C141.13,378.67 144.38,379.83 147.64,380.75 C150.90,381.67 154.15,382.29 157.41,383.00 C160.67,383.71 163.92,384.45 167.18,385.00 C170.44,385.55 173.69,385.93 176.95,386.30 C180.21,386.67 183.46,386.95 186.72,387.20 C189.98,387.45 193.23,387.63 196.49,387.80 C199.75,387.97 203.00,388.10 206.26,388.20 C209.52,388.30 212.77,388.35 216.03,388.40 C219.29,388.45 222.54,388.48 225.80,388.50 C229.06,388.52 233.94,388.50 235.57,388.50" fill="none" stroke="#000" stroke-width="0.8"/>
<path d="M77.35,366.25 H81.15 M79.25,364.35 V368.15" stroke="#000" stroke-width="0.7" fill="none"/>
<path d="M87.12,362.90 H90.92 M89.02,361.00 V364.80" stroke="#000" stroke-width="0.7" fill="none"/>
<path d="M96.89,362.00 H100.69 M98.79,360.10 V363.90" stroke="#000" stroke-width="0.7" fill="none"/>
<path d="M106.66,364.00 H110.46 M108.56,362.10 V365.90" stroke="#000" stroke-width="0.7" fill="none"/>
<path d="M116.43,368.50 H120.23 M118.33,366.60 V370.40" stroke="#000" stroke-width="0.7" fill="none"/>
<path d="M126.20,373.75 H130.00 M128.10,371.85 V375.65" stroke="#000" stroke-width="0.7" fill="none"/>
<path d="M135.97,377.50 H139.77 M137.87,375.60 V379.40" stroke="#000" stroke-width="0.7" fill="none"/>
<path d="M145.74,380.75 H149.54 M147.64,378.85 V382.65" stroke="#000" stroke-width="0.7" fill="none"/>
<path d="M155.51,383.00 H159.31 M157.41,381.10 V384.90" stroke="#000" stroke-width="0.7" fill="none"/>
<path d="M165.28,385.00 H169.08 M167.18,383.10 V386.90" stroke="#000" stroke-width="0.7" fill="none"/>
<path d="M175.05,386.30 H178.85 M176.95,384.40 V388.20" stroke="#000" stroke-width="0.7" fill="none"/>
<path d="M184.82,387.20 H188.62 M186.72,385.30 V389.10" stroke="#000" stroke-width="0.7" fill="none"/>
<path d="M194.59,387.80 H198.39 M196.49,385.90 V389.70" stroke="#000" stroke-width="0.7" fill="none"/>
<path d="M204.36,388.20 H208.16 M206.26,386.30 V390.10" stroke="#000" stroke-width="0.7" fill="none"/>
<path d="M214.13,388.40 H217.93 M216.03,386.50 V390.30" stroke="#000" stroke-width="0.7" fill="none"/>
<path d="M223.90,388.50 H227.70 M225.80,386.60 V390.40" stroke="#000" stroke-width="0.7" fill="none"/>
<path d="M233.67,388.50 H237.47 M235.57,386.60 V390.40" stroke="#000" stroke-width="0.7" fill="none"/>
<line x1="154.30" y1="272.50" x2="168.30" y2="272.50" stroke="#000" stroke-width="1.2"/>
<rect x="159.40" y="270.60" width="3.8" height="3.8" fill="#000"/>
<text transform="translate(170.80,275.00) scale(1,0.93)" font-size="7.7" text-anchor="start" textLength="25.50" lengthAdjust="spacingAndGlyphs" >Resting</text>
<line x1="154.30" y1="280.70" x2="168.30" y2="280.70" stroke="#555" stroke-width="0.7"/>
<path d="M161.30,278.30 L163.70,282.50 L158.90,282.50 Z" fill="#fff" stroke="#000" stroke-width="0.9"/>
<text transform="translate(170.80,283.20) scale(1,0.93)" font-size="7.7" text-anchor="start" textLength="17.50" lengthAdjust="spacingAndGlyphs" >TNF&#945;</text>
<line x1="154.30" y1="288.80" x2="168.30" y2="288.80" stroke="#555" stroke-width="0.7"/>
<circle cx="161.30" cy="288.80" r="1.9" fill="#fff" stroke="#000" stroke-width="0.9"/>
<text transform="translate(170.80,291.30) scale(1,0.93)" font-size="7.7" text-anchor="start" textLength="16.50" lengthAdjust="spacingAndGlyphs" >fMLF</text>
<line x1="154.30" y1="297.00" x2="168.30" y2="297.00" stroke="#000" stroke-width="1.2"/>
<circle cx="161.30" cy="297.00" r="2.1" fill="#000"/>
<text transform="translate(170.80,299.50) scale(1,0.93)" font-size="7.7" text-anchor="start" textLength="40.50" lengthAdjust="spacingAndGlyphs" >TNF&#945;+ fMLF</text>
<line x1="154.30" y1="305.40" x2="168.30" y2="305.40" stroke="#000" stroke-width="1.2"/>
<path d="M161.30,307.90 L163.80,303.40 L158.80,303.40 Z" fill="#000"/>
<text transform="translate(170.80,307.90) scale(1,0.93)" font-size="7.7" text-anchor="start" textLength="40.00" lengthAdjust="spacingAndGlyphs" >fMLF + PPIn</text>
<line x1="154.30" y1="313.70" x2="168.30" y2="313.70" stroke="#333" stroke-width="0.7"/>
<path d="M159.40,313.70 H163.20 M161.30,311.80 V315.60" stroke="#000" stroke-width="0.7" fill="none"/>
<text transform="translate(170.80,316.20) scale(1,0.93)" font-size="7.7" text-anchor="start" textLength="64.20" lengthAdjust="spacingAndGlyphs" >TNF&#945;+ fMLF + PPIn</text>
<text transform="translate(49.40,406.00) rotate(-90)" font-size="10.4" textLength="82.80" lengthAdjust="spacingAndGlyphs" >Chemiluminescence</text>
<text transform="translate(49.40,313.10) rotate(-90)" font-size="10.4" textLength="55.00" lengthAdjust="spacingAndGlyphs" >(cpm x 10<tspan font-size="6.3" dy="-3.5">6</tspan><tspan dy="3.5">)</tspan></text>
<text transform="translate(155.50,423.10) scale(1,1)" font-size="10.6" text-anchor="middle" textLength="49.00" lengthAdjust="spacingAndGlyphs" >Time (min)</text>
<line x1="74.20" y1="497.00" x2="74.20" y2="642.50" stroke="#000" stroke-width="1.15"/>
<line x1="73.70" y1="642.00" x2="240.90" y2="642.00" stroke="#000" stroke-width="1.15"/>
<line x1="70.60" y1="639.00" x2="74.20" y2="639.00" stroke="#000" stroke-width="1.1"/>
<text transform="translate(70.00,642.40) scale(1,0.93)" font-size="10.5" text-anchor="end" textLength="5.84" lengthAdjust="spacingAndGlyphs" >0</text>
<line x1="70.60" y1="623.28" x2="74.20" y2="623.28" stroke="#000" stroke-width="1.1"/>
<text transform="translate(70.00,626.68) scale(1,0.93)" font-size="10.5" text-anchor="end" textLength="9.79" lengthAdjust="spacingAndGlyphs" >10</text>
<line x1="70.60" y1="607.56" x2="74.20" y2="607.56" stroke="#000" stroke-width="1.1"/>
<text transform="translate(70.00,610.96) scale(1,0.93)" font-size="10.5" text-anchor="end" textLength="11.68" lengthAdjust="spacingAndGlyphs" >20</text>
<line x1="70.60" y1="591.84" x2="74.20" y2="591.84" stroke="#000" stroke-width="1.1"/>
<text transform="translate(70.00,595.24) scale(1,0.93)" font-size="10.5" text-anchor="end" textLength="11.68" lengthAdjust="spacingAndGlyphs" >30</text>
<line x1="70.60" y1="576.12" x2="74.20" y2="576.12" stroke="#000" stroke-width="1.1"/>
<text transform="translate(70.00,579.52) scale(1,0.93)" font-size="10.5" text-anchor="end" textLength="11.68" lengthAdjust="spacingAndGlyphs" >40</text>
<line x1="70.60" y1="560.40" x2="74.20" y2="560.40" stroke="#000" stroke-width="1.1"/>
<text transform="translate(70.00,563.80) scale(1,0.93)" font-size="10.5" text-anchor="end" textLength="11.68" lengthAdjust="spacingAndGlyphs" >50</text>
<line x1="70.60" y1="544.68" x2="74.20" y2="544.68" stroke="#000" stroke-width="1.1"/>
<text transform="translate(70.00,548.08) scale(1,0.93)" font-size="10.5" text-anchor="end" textLength="11.68" lengthAdjust="spacingAndGlyphs" >60</text>
<line x1="70.60" y1="528.96" x2="74.20" y2="528.96" stroke="#000" stroke-width="1.1"/>
<text transform="translate(70.00,532.36) scale(1,0.93)" font-size="10.5" text-anchor="end" textLength="11.68" lengthAdjust="spacingAndGlyphs" >70</text>
<line x1="70.60" y1="513.24" x2="74.20" y2="513.24" stroke="#000" stroke-width="1.1"/>
<text transform="translate(70.00,516.64) scale(1,0.93)" font-size="10.5" text-anchor="end" textLength="11.68" lengthAdjust="spacingAndGlyphs" >80</text>
<line x1="70.60" y1="497.52" x2="74.20" y2="497.52" stroke="#000" stroke-width="1.1"/>
<text transform="translate(70.00,500.92) scale(1,0.93)" font-size="10.5" text-anchor="end" textLength="11.68" lengthAdjust="spacingAndGlyphs" >90</text>
<line x1="77.35" y1="642.00" x2="77.35" y2="645.50" stroke="#000" stroke-width="1.1"/>
<text transform="translate(77.35,652.20) scale(1,0.93)" font-size="10.5" text-anchor="middle" textLength="5.84" lengthAdjust="spacingAndGlyphs" >0</text>
<line x1="104.52" y1="642.00" x2="104.52" y2="645.50" stroke="#000" stroke-width="1.1"/>
<text transform="translate(104.52,652.20) scale(1,0.93)" font-size="10.5" text-anchor="middle" textLength="5.84" lengthAdjust="spacingAndGlyphs" >5</text>
<line x1="131.70" y1="642.00" x2="131.70" y2="645.50" stroke="#000" stroke-width="1.1"/>
<text transform="translate(131.70,652.20) scale(1,0.93)" font-size="10.5" text-anchor="middle" textLength="9.79" lengthAdjust="spacingAndGlyphs" >10</text>
<line x1="158.88" y1="642.00" x2="158.88" y2="645.50" stroke="#000" stroke-width="1.1"/>
<text transform="translate(158.88,652.20) scale(1,0.93)" font-size="10.5" text-anchor="middle" textLength="9.79" lengthAdjust="spacingAndGlyphs" >15</text>
<line x1="186.05" y1="642.00" x2="186.05" y2="645.50" stroke="#000" stroke-width="1.1"/>
<text transform="translate(186.05,652.20) scale(1,0.93)" font-size="10.5" text-anchor="middle" textLength="11.68" lengthAdjust="spacingAndGlyphs" >20</text>
<line x1="213.22" y1="642.00" x2="213.22" y2="645.50" stroke="#000" stroke-width="1.1"/>
<text transform="translate(213.22,652.20) scale(1,0.93)" font-size="10.5" text-anchor="middle" textLength="11.68" lengthAdjust="spacingAndGlyphs" >25</text>
<line x1="240.40" y1="642.00" x2="240.40" y2="645.50" stroke="#000" stroke-width="1.1"/>
<text transform="translate(241.70,651.20) scale(1,0.93)" font-size="10.5" text-anchor="middle" textLength="11.68" lengthAdjust="spacingAndGlyphs" >30</text>
<circle cx="77.35" cy="638.06" r="1.8" fill="#fff" stroke="#000" stroke-width="1.0"/>
<circle cx="80.41" cy="638.02" r="1.8" fill="#fff" stroke="#000" stroke-width="1.0"/>
<circle cx="83.46" cy="637.98" r="1.8" fill="#fff" stroke="#000" stroke-width="1.0"/>
<circle cx="86.52" cy="637.95" r="1.8" fill="#fff" stroke="#000" stroke-width="1.0"/>
<circle cx="89.58" cy="637.91" r="1.8" fill="#fff" stroke="#000" stroke-width="1.0"/>
<circle cx="92.64" cy="637.87" r="1.8" fill="#fff" stroke="#000" stroke-width="1.0"/>
<circle cx="95.69" cy="637.84" r="1.8" fill="#fff" stroke="#000" stroke-width="1.0"/>
<circle cx="98.75" cy="637.80" r="1.8" fill="#fff" stroke="#000" stroke-width="1.0"/>
<circle cx="101.81" cy="637.76" r="1.8" fill="#fff" stroke="#000" stroke-width="1.0"/>
<circle cx="104.86" cy="637.73" r="1.8" fill="#fff" stroke="#000" stroke-width="1.0"/>
<circle cx="107.92" cy="637.69" r="1.8" fill="#fff" stroke="#000" stroke-width="1.0"/>
<circle cx="110.98" cy="637.65" r="1.8" fill="#fff" stroke="#000" stroke-width="1.0"/>
<circle cx="114.04" cy="637.62" r="1.8" fill="#fff" stroke="#000" stroke-width="1.0"/>
<circle cx="117.09" cy="637.58" r="1.8" fill="#fff" stroke="#000" stroke-width="1.0"/>
<circle cx="120.15" cy="637.54" r="1.8" fill="#fff" stroke="#000" stroke-width="1.0"/>
<circle cx="123.21" cy="637.51" r="1.8" fill="#fff" stroke="#000" stroke-width="1.0"/>
<circle cx="126.26" cy="637.47" r="1.8" fill="#fff" stroke="#000" stroke-width="1.0"/>
<circle cx="129.32" cy="637.43" r="1.8" fill="#fff" stroke="#000" stroke-width="1.0"/>
<circle cx="132.38" cy="637.40" r="1.8" fill="#fff" stroke="#000" stroke-width="1.0"/>
<circle cx="135.44" cy="637.36" r="1.8" fill="#fff" stroke="#000" stroke-width="1.0"/>
<circle cx="138.49" cy="637.33" r="1.8" fill="#fff" stroke="#000" stroke-width="1.0"/>
<circle cx="141.55" cy="637.29" r="1.8" fill="#fff" stroke="#000" stroke-width="1.0"/>
<circle cx="144.61" cy="637.25" r="1.8" fill="#fff" stroke="#000" stroke-width="1.0"/>
<circle cx="147.67" cy="637.22" r="1.8" fill="#fff" stroke="#000" stroke-width="1.0"/>
<circle cx="150.72" cy="637.18" r="1.8" fill="#fff" stroke="#000" stroke-width="1.0"/>
<circle cx="153.78" cy="637.14" r="1.8" fill="#fff" stroke="#000" stroke-width="1.0"/>
<circle cx="156.84" cy="637.11" r="1.8" fill="#fff" stroke="#000" stroke-width="1.0"/>
<circle cx="159.89" cy="637.07" r="1.8" fill="#fff" stroke="#000" stroke-width="1.0"/>
<circle cx="162.95" cy="637.03" r="1.8" fill="#fff" stroke="#000" stroke-width="1.0"/>
<circle cx="166.01" cy="637.00" r="1.8" fill="#fff" stroke="#000" stroke-width="1.0"/>
<circle cx="169.07" cy="636.96" r="1.8" fill="#fff" stroke="#000" stroke-width="1.0"/>
<circle cx="172.12" cy="636.92" r="1.8" fill="#fff" stroke="#000" stroke-width="1.0"/>
<circle cx="175.18" cy="636.89" r="1.8" fill="#fff" stroke="#000" stroke-width="1.0"/>
<circle cx="178.24" cy="636.85" r="1.8" fill="#fff" stroke="#000" stroke-width="1.0"/>
<circle cx="181.29" cy="636.81" r="1.8" fill="#fff" stroke="#000" stroke-width="1.0"/>
<circle cx="184.35" cy="636.78" r="1.8" fill="#fff" stroke="#000" stroke-width="1.0"/>
<circle cx="187.41" cy="636.74" r="1.8" fill="#fff" stroke="#000" stroke-width="1.0"/>
<circle cx="190.47" cy="636.70" r="1.8" fill="#fff" stroke="#000" stroke-width="1.0"/>
<circle cx="193.52" cy="636.67" r="1.8" fill="#fff" stroke="#000" stroke-width="1.0"/>
<circle cx="196.58" cy="636.63" r="1.8" fill="#fff" stroke="#000" stroke-width="1.0"/>
<circle cx="199.64" cy="636.59" r="1.8" fill="#fff" stroke="#000" stroke-width="1.0"/>
<circle cx="202.69" cy="636.56" r="1.8" fill="#fff" stroke="#000" stroke-width="1.0"/>
<circle cx="205.75" cy="636.52" r="1.8" fill="#fff" stroke="#000" stroke-width="1.0"/>
<circle cx="208.81" cy="636.48" r="1.8" fill="#fff" stroke="#000" stroke-width="1.0"/>
<circle cx="211.87" cy="636.45" r="1.8" fill="#fff" stroke="#000" stroke-width="1.0"/>
<circle cx="214.92" cy="636.41" r="1.8" fill="#fff" stroke="#000" stroke-width="1.0"/>
<circle cx="217.98" cy="636.37" r="1.8" fill="#fff" stroke="#000" stroke-width="1.0"/>
<circle cx="221.04" cy="636.34" r="1.8" fill="#fff" stroke="#000" stroke-width="1.0"/>
<circle cx="224.09" cy="636.30" r="1.8" fill="#fff" stroke="#000" stroke-width="1.0"/>
<circle cx="227.15" cy="636.26" r="1.8" fill="#fff" stroke="#000" stroke-width="1.0"/>
<circle cx="230.21" cy="636.23" r="1.8" fill="#fff" stroke="#000" stroke-width="1.0"/>
<circle cx="233.27" cy="636.19" r="1.8" fill="#fff" stroke="#000" stroke-width="1.0"/>
<polyline points="77.35,638.53 80.41,636.59 83.46,624.70 86.52,607.64 89.58,591.84 92.64,580.00 95.69,569.78 98.75,563.57 101.81,560.59 104.86,559.21 107.92,558.19 110.98,558.83 114.04,558.42 117.09,558.76 120.15,559.28 123.21,559.09 126.26,559.97 129.32,559.80 132.38,560.46 135.44,560.70 138.49,560.60 141.55,560.42 144.61,561.46 147.67,561.62 150.72,561.52 153.78,561.53 156.84,562.38 159.89,563.08 162.95,563.06 166.01,564.70 169.07,564.43 172.12,565.74 175.18,566.61 178.24,567.34 181.29,567.84 184.35,567.99 187.41,569.44 190.47,569.79 193.52,570.47 196.58,571.47 199.64,571.98 202.69,573.22 205.75,573.93 208.81,574.48 211.87,574.66 214.92,575.60 217.98,576.34 221.04,576.73 224.09,577.59 227.15,578.46 230.21,578.61 233.27,579.33" fill="none" stroke="#000" stroke-width="1.2" stroke-linejoin="round"/>
<path d="M80.10,638.53 L75.15,635.78 L75.15,641.28 Z" fill="#000"/>
<path d="M83.16,636.59 L78.21,633.84 L78.21,639.34 Z" fill="#000"/>
<path d="M86.21,624.70 L81.26,621.95 L81.26,627.45 Z" fill="#000"/>
<path d="M89.27,607.64 L84.32,604.89 L84.32,610.39 Z" fill="#000"/>
<path d="M92.33,591.84 L87.38,589.09 L87.38,594.59 Z" fill="#000"/>
<path d="M95.39,580.00 L90.44,577.25 L90.44,582.75 Z" fill="#000"/>
<path d="M98.44,569.78 L93.49,567.03 L93.49,572.53 Z" fill="#000"/>
<path d="M101.50,563.57 L96.55,560.82 L96.55,566.32 Z" fill="#000"/>
<path d="M104.56,560.59 L99.61,557.84 L99.61,563.34 Z" fill="#000"/>
<path d="M107.61,559.21 L102.66,556.46 L102.66,561.96 Z" fill="#000"/>
<path d="M110.67,558.19 L105.72,555.44 L105.72,560.94 Z" fill="#000"/>
<path d="M113.73,558.83 L108.78,556.08 L108.78,561.58 Z" fill="#000"/>
<path d="M116.79,558.42 L111.84,555.67 L111.84,561.17 Z" fill="#000"/>
<path d="M119.84,558.76 L114.89,556.01 L114.89,561.51 Z" fill="#000"/>
<path d="M122.90,559.28 L117.95,556.53 L117.95,562.03 Z" fill="#000"/>
<path d="M125.96,559.09 L121.01,556.34 L121.01,561.84 Z" fill="#000"/>
<path d="M129.01,559.97 L124.06,557.22 L124.06,562.72 Z" fill="#000"/>
<path d="M132.07,559.80 L127.12,557.05 L127.12,562.55 Z" fill="#000"/>
<path d="M135.13,560.46 L130.18,557.71 L130.18,563.21 Z" fill="#000"/>
<path d="M138.19,560.70 L133.24,557.95 L133.24,563.45 Z" fill="#000"/>
<path d="M141.24,560.60 L136.29,557.85 L136.29,563.35 Z" fill="#000"/>
<path d="M144.30,560.42 L139.35,557.67 L139.35,563.17 Z" fill="#000"/>
<path d="M147.36,561.46 L142.41,558.71 L142.41,564.21 Z" fill="#000"/>
<path d="M150.42,561.62 L145.47,558.87 L145.47,564.37 Z" fill="#000"/>
<path d="M153.47,561.52 L148.52,558.77 L148.52,564.27 Z" fill="#000"/>
<path d="M156.53,561.53 L151.58,558.78 L151.58,564.28 Z" fill="#000"/>
<path d="M159.59,562.38 L154.64,559.63 L154.64,565.13 Z" fill="#000"/>
<path d="M162.64,563.08 L157.69,560.33 L157.69,565.83 Z" fill="#000"/>
<path d="M165.70,563.06 L160.75,560.31 L160.75,565.81 Z" fill="#000"/>
<path d="M168.76,564.70 L163.81,561.95 L163.81,567.45 Z" fill="#000"/>
<path d="M171.82,564.43 L166.87,561.68 L166.87,567.18 Z" fill="#000"/>
<path d="M174.87,565.74 L169.92,562.99 L169.92,568.49 Z" fill="#000"/>
<path d="M177.93,566.61 L172.98,563.86 L172.98,569.36 Z" fill="#000"/>
<path d="M180.99,567.34 L176.04,564.59 L176.04,570.09 Z" fill="#000"/>
<path d="M184.04,567.84 L179.09,565.09 L179.09,570.59 Z" fill="#000"/>
<path d="M187.10,567.99 L182.15,565.24 L182.15,570.74 Z" fill="#000"/>
<path d="M190.16,569.44 L185.21,566.69 L185.21,572.19 Z" fill="#000"/>
<path d="M193.22,569.79 L188.27,567.04 L188.27,572.54 Z" fill="#000"/>
<path d="M196.27,570.47 L191.32,567.72 L191.32,573.22 Z" fill="#000"/>
<path d="M199.33,571.47 L194.38,568.72 L194.38,574.22 Z" fill="#000"/>
<path d="M202.39,571.98 L197.44,569.23 L197.44,574.73 Z" fill="#000"/>
<path d="M205.44,573.22 L200.49,570.47 L200.49,575.97 Z" fill="#000"/>
<path d="M208.50,573.93 L203.55,571.18 L203.55,576.68 Z" fill="#000"/>
<path d="M211.56,574.48 L206.61,571.73 L206.61,577.23 Z" fill="#000"/>
<path d="M214.62,574.66 L209.67,571.91 L209.67,577.41 Z" fill="#000"/>
<path d="M217.67,575.60 L212.72,572.85 L212.72,578.35 Z" fill="#000"/>
<path d="M220.73,576.34 L215.78,573.59 L215.78,579.09 Z" fill="#000"/>
<path d="M223.79,576.73 L218.84,573.98 L218.84,579.48 Z" fill="#000"/>
<path d="M226.84,577.59 L221.89,574.84 L221.89,580.34 Z" fill="#000"/>
<path d="M229.90,578.46 L224.95,575.71 L224.95,581.21 Z" fill="#000"/>
<path d="M232.96,578.61 L228.01,575.86 L228.01,581.36 Z" fill="#000"/>
<path d="M236.02,579.33 L231.07,576.58 L231.07,582.08 Z" fill="#000"/>
<polyline points="77.35,638.53 80.41,637.39 83.46,627.85 86.52,611.56 89.58,595.77 92.64,583.14 95.69,572.11 98.75,563.58 101.81,558.32 104.86,554.81 107.92,553.25 110.98,551.84 114.04,551.65 117.09,551.64 120.15,550.26 123.21,551.01 126.26,550.59 129.32,550.04 132.38,550.55 135.44,550.09 138.49,550.45 141.55,549.58 144.61,549.30 147.67,549.34 150.72,549.38 153.78,550.44 156.84,550.46 159.89,551.10 162.95,551.82 166.01,552.77 169.07,553.23 172.12,554.00 175.18,555.40 178.24,555.98 181.29,557.41 184.35,557.32 187.41,558.12 190.47,558.62 193.52,559.69 196.58,561.17 199.64,561.94 202.69,562.49 205.75,563.91 208.81,564.05 211.87,564.81 214.92,565.26 217.98,565.68 221.04,565.32 224.09,566.47 227.15,566.78 230.21,567.06 233.27,566.98" fill="none" stroke="#000" stroke-width="1.2" stroke-linejoin="round"/>
<path d="M77.35,635.63 L79.81,638.53 L77.35,641.43 L74.88,638.53 Z" fill="#000"/>
<path d="M80.41,634.49 L82.87,637.39 L80.41,640.29 L77.94,637.39 Z" fill="#000"/>
<path d="M83.46,624.95 L85.93,627.85 L83.46,630.75 L81.00,627.85 Z" fill="#000"/>
<path d="M86.52,608.66 L88.99,611.56 L86.52,614.46 L84.06,611.56 Z" fill="#000"/>
<path d="M89.58,592.87 L92.04,595.77 L89.58,598.67 L87.11,595.77 Z" fill="#000"/>
<path d="M92.64,580.24 L95.10,583.14 L92.64,586.04 L90.17,583.14 Z" fill="#000"/>
<path d="M95.69,569.21 L98.16,572.11 L95.69,575.01 L93.23,572.11 Z" fill="#000"/>
<path d="M98.75,560.68 L101.22,563.58 L98.75,566.48 L96.29,563.58 Z" fill="#000"/>
<path d="M101.81,555.42 L104.27,558.32 L101.81,561.22 L99.34,558.32 Z" fill="#000"/>
<path d="M104.86,551.91 L107.33,554.81 L104.86,557.71 L102.40,554.81 Z" fill="#000"/>
<path d="M107.92,550.35 L110.39,553.25 L107.92,556.15 L105.46,553.25 Z" fill="#000"/>
<path d="M110.98,548.94 L113.44,551.84 L110.98,554.74 L108.51,551.84 Z" fill="#000"/>
<path d="M114.04,548.75 L116.50,551.65 L114.04,554.55 L111.57,551.65 Z" fill="#000"/>
<path d="M117.09,548.74 L119.56,551.64 L117.09,554.54 L114.63,551.64 Z" fill="#000"/>
<path d="M120.15,547.36 L122.62,550.26 L120.15,553.16 L117.69,550.26 Z" fill="#000"/>
<path d="M123.21,548.11 L125.67,551.01 L123.21,553.91 L120.74,551.01 Z" fill="#000"/>
<path d="M126.26,547.69 L128.73,550.59 L126.26,553.49 L123.80,550.59 Z" fill="#000"/>
<path d="M129.32,547.14 L131.79,550.04 L129.32,552.94 L126.86,550.04 Z" fill="#000"/>
<path d="M132.38,547.65 L134.84,550.55 L132.38,553.45 L129.91,550.55 Z" fill="#000"/>
<path d="M135.44,547.19 L137.90,550.09 L135.44,552.99 L132.97,550.09 Z" fill="#000"/>
<path d="M138.49,547.55 L140.96,550.45 L138.49,553.35 L136.03,550.45 Z" fill="#000"/>
<path d="M141.55,546.68 L144.02,549.58 L141.55,552.48 L139.09,549.58 Z" fill="#000"/>
<path d="M144.61,546.40 L147.07,549.30 L144.61,552.20 L142.14,549.30 Z" fill="#000"/>
<path d="M147.67,546.44 L150.13,549.34 L147.67,552.24 L145.20,549.34 Z" fill="#000"/>
<path d="M150.72,546.48 L153.19,549.38 L150.72,552.28 L148.26,549.38 Z" fill="#000"/>
<path d="M153.78,547.54 L156.24,550.44 L153.78,553.34 L151.31,550.44 Z" fill="#000"/>
<path d="M156.84,547.56 L159.30,550.46 L156.84,553.36 L154.37,550.46 Z" fill="#000"/>
<path d="M159.89,548.20 L162.36,551.10 L159.89,554.00 L157.43,551.10 Z" fill="#000"/>
<path d="M162.95,548.92 L165.42,551.82 L162.95,554.72 L160.49,551.82 Z" fill="#000"/>
<path d="M166.01,549.87 L168.47,552.77 L166.01,555.67 L163.54,552.77 Z" fill="#000"/>
<path d="M169.07,550.33 L171.53,553.23 L169.07,556.13 L166.60,553.23 Z" fill="#000"/>
<path d="M172.12,551.10 L174.59,554.00 L172.12,556.90 L169.66,554.00 Z" fill="#000"/>
<path d="M175.18,552.50 L177.65,555.40 L175.18,558.30 L172.72,555.40 Z" fill="#000"/>
<path d="M178.24,553.08 L180.70,555.98 L178.24,558.88 L175.77,555.98 Z" fill="#000"/>
<path d="M181.29,554.51 L183.76,557.41 L181.29,560.31 L178.83,557.41 Z" fill="#000"/>
<path d="M184.35,554.42 L186.82,557.32 L184.35,560.22 L181.89,557.32 Z" fill="#000"/>
<path d="M187.41,555.22 L189.87,558.12 L187.41,561.02 L184.94,558.12 Z" fill="#000"/>
<path d="M190.47,555.72 L192.93,558.62 L190.47,561.52 L188.00,558.62 Z" fill="#000"/>
<path d="M193.52,556.79 L195.99,559.69 L193.52,562.59 L191.06,559.69 Z" fill="#000"/>
<path d="M196.58,558.27 L199.05,561.17 L196.58,564.07 L194.12,561.17 Z" fill="#000"/>
<path d="M199.64,559.04 L202.10,561.94 L199.64,564.84 L197.17,561.94 Z" fill="#000"/>
<path d="M202.69,559.59 L205.16,562.49 L202.69,565.39 L200.23,562.49 Z" fill="#000"/>
<path d="M205.75,561.01 L208.22,563.91 L205.75,566.81 L203.29,563.91 Z" fill="#000"/>
<path d="M208.81,561.15 L211.27,564.05 L208.81,566.95 L206.34,564.05 Z" fill="#000"/>
<path d="M211.87,561.91 L214.33,564.81 L211.87,567.71 L209.40,564.81 Z" fill="#000"/>
<path d="M214.92,562.36 L217.39,565.26 L214.92,568.16 L212.46,565.26 Z" fill="#000"/>
<path d="M217.98,562.78 L220.45,565.68 L217.98,568.58 L215.52,565.68 Z" fill="#000"/>
<path d="M221.04,562.42 L223.50,565.32 L221.04,568.22 L218.57,565.32 Z" fill="#000"/>
<path d="M224.09,563.57 L226.56,566.47 L224.09,569.37 L221.63,566.47 Z" fill="#000"/>
<path d="M227.15,563.88 L229.62,566.78 L227.15,569.68 L224.69,566.78 Z" fill="#000"/>
<path d="M230.21,564.16 L232.67,567.06 L230.21,569.96 L227.74,567.06 Z" fill="#000"/>
<path d="M233.27,564.08 L235.73,566.98 L233.27,569.88 L230.80,566.98 Z" fill="#000"/>
<polyline points="77.35,638.21 80.41,636.52 83.46,608.84 86.52,576.26 89.58,550.97 92.64,533.63 95.69,524.20 98.75,518.77 101.81,517.70 104.86,518.02 107.92,518.78 110.98,520.57 114.04,523.06 117.09,520.71 120.15,524.39 123.21,527.87 126.26,529.53 129.32,530.15 132.38,530.94 135.44,532.84 138.49,533.69 141.55,533.91 144.61,533.74 147.67,534.21 150.72,535.14 153.78,538.70 156.84,540.64 159.89,541.44 162.95,543.27 166.01,544.79 169.07,546.08 172.12,548.17 175.18,550.16 178.24,551.80 181.29,553.50 184.35,556.05 187.41,556.56 190.47,558.03 193.52,558.95 196.58,559.93 199.64,561.32 202.69,562.20 205.75,563.45 208.81,563.58 211.87,564.92 214.92,565.58 217.98,566.11 221.04,566.81 224.09,567.20 227.15,568.10 230.21,568.67 233.27,568.92" fill="none" stroke="#000" stroke-width="1.2" stroke-linejoin="round"/>
<circle cx="77.35" cy="638.21" r="2.2" fill="#000"/>
<circle cx="80.41" cy="636.52" r="2.2" fill="#000"/>
<circle cx="83.46" cy="608.84" r="2.2" fill="#000"/>
<circle cx="86.52" cy="576.26" r="2.2" fill="#000"/>
<circle cx="89.58" cy="550.97" r="2.2" fill="#000"/>
<circle cx="92.64" cy="533.63" r="2.2" fill="#000"/>
<circle cx="95.69" cy="524.20" r="2.2" fill="#000"/>
<circle cx="98.75" cy="518.77" r="2.2" fill="#000"/>
<circle cx="101.81" cy="517.70" r="2.2" fill="#000"/>
<circle cx="104.86" cy="518.02" r="2.2" fill="#000"/>
<circle cx="107.92" cy="518.78" r="2.2" fill="#000"/>
<circle cx="110.98" cy="520.57" r="2.2" fill="#000"/>
<circle cx="114.04" cy="523.06" r="2.2" fill="#000"/>
<circle cx="117.09" cy="520.71" r="2.2" fill="#000"/>
<circle cx="120.15" cy="524.39" r="2.2" fill="#000"/>
<circle cx="123.21" cy="527.87" r="2.2" fill="#000"/>
<circle cx="126.26" cy="529.53" r="2.2" fill="#000"/>
<circle cx="129.32" cy="530.15" r="2.2" fill="#000"/>
<circle cx="132.38" cy="530.94" r="2.2" fill="#000"/>
<circle cx="135.44" cy="532.84" r="2.2" fill="#000"/>
<circle cx="138.49" cy="533.69" r="2.2" fill="#000"/>
<circle cx="141.55" cy="533.91" r="2.2" fill="#000"/>
<circle cx="144.61" cy="533.74" r="2.2" fill="#000"/>
<circle cx="147.67" cy="534.21" r="2.2" fill="#000"/>
<circle cx="150.72" cy="535.14" r="2.2" fill="#000"/>
<circle cx="153.78" cy="538.70" r="2.2" fill="#000"/>
<circle cx="156.84" cy="540.64" r="2.2" fill="#000"/>
<circle cx="159.89" cy="541.44" r="2.2" fill="#000"/>
<circle cx="162.95" cy="543.27" r="2.2" fill="#000"/>
<circle cx="166.01" cy="544.79" r="2.2" fill="#000"/>
<circle cx="169.07" cy="546.08" r="2.2" fill="#000"/>
<circle cx="172.12" cy="548.17" r="2.2" fill="#000"/>
<circle cx="175.18" cy="550.16" r="2.2" fill="#000"/>
<circle cx="178.24" cy="551.80" r="2.2" fill="#000"/>
<circle cx="181.29" cy="553.50" r="2.2" fill="#000"/>
<circle cx="184.35" cy="556.05" r="2.2" fill="#000"/>
<circle cx="187.41" cy="556.56" r="2.2" fill="#000"/>
<circle cx="190.47" cy="558.03" r="2.2" fill="#000"/>
<circle cx="193.52" cy="558.95" r="2.2" fill="#000"/>
<circle cx="196.58" cy="559.93" r="2.2" fill="#000"/>
<circle cx="199.64" cy="561.32" r="2.2" fill="#000"/>
<circle cx="202.69" cy="562.20" r="2.2" fill="#000"/>
<circle cx="205.75" cy="563.45" r="2.2" fill="#000"/>
<circle cx="208.81" cy="563.58" r="2.2" fill="#000"/>
<circle cx="211.87" cy="564.92" r="2.2" fill="#000"/>
<circle cx="214.92" cy="565.58" r="2.2" fill="#000"/>
<circle cx="217.98" cy="566.11" r="2.2" fill="#000"/>
<circle cx="221.04" cy="566.81" r="2.2" fill="#000"/>
<circle cx="224.09" cy="567.20" r="2.2" fill="#000"/>
<circle cx="227.15" cy="568.10" r="2.2" fill="#000"/>
<circle cx="230.21" cy="568.67" r="2.2" fill="#000"/>
<circle cx="233.27" cy="568.92" r="2.2" fill="#000"/>
<line x1="171.30" y1="495.00" x2="187.00" y2="495.00" stroke="#000" stroke-width="1.0"/>
<circle cx="179.15" cy="495.00" r="1.7" fill="#fff" stroke="#000" stroke-width="0.7"/>
<text transform="translate(190.00,497.50) scale(1,0.93)" font-size="7.7" text-anchor="start" textLength="26.50" lengthAdjust="spacingAndGlyphs" xml:space="preserve">Resting</text>
<line x1="171.30" y1="505.00" x2="187.00" y2="505.00" stroke="#000" stroke-width="1.0"/>
<path d="M182.15,505.00 L177.65,502.50 L177.65,507.50 Z" fill="#000"/>
<text transform="translate(190.00,507.50) scale(1,0.93)" font-size="7.7" text-anchor="start" textLength="15.50" lengthAdjust="spacingAndGlyphs" xml:space="preserve">PMA</text>
<line x1="171.30" y1="515.00" x2="187.00" y2="515.00" stroke="#000" stroke-width="1.0"/>
<circle cx="179.15" cy="515.00" r="2.0" fill="#000"/>
<text transform="translate(190.00,517.50) scale(1,0.93)" font-size="7.7" text-anchor="start" textLength="51.30" lengthAdjust="spacingAndGlyphs" xml:space="preserve">PMA + Juglone</text>
<line x1="171.30" y1="524.60" x2="187.00" y2="524.60" stroke="#000" stroke-width="1.0"/>
<path d="M179.15,522.10 L181.28,524.60 L179.15,527.10 L177.03,524.60 Z" fill="#000"/>
<text transform="translate(190.00,527.10) scale(1,0.93)" font-size="7.7" text-anchor="start" textLength="41.50" lengthAdjust="spacingAndGlyphs" xml:space="preserve">PMA +  PPIn</text>
<text transform="translate(50.20,642.00) rotate(-90)" font-size="10.4" textLength="89.30" lengthAdjust="spacingAndGlyphs" >Chemiluminescence</text>
<text transform="translate(50.20,542.60) rotate(-90)" font-size="10.4" textLength="54.60" lengthAdjust="spacingAndGlyphs" >(cpm x 10<tspan font-size="6.3" dy="-3.5">6</tspan><tspan dy="3.5">)</tspan></text>
<text transform="translate(160.00,669.80) scale(1,1)" font-size="10.6" text-anchor="middle" textLength="49.00" lengthAdjust="spacingAndGlyphs" >Time (min)</text>
<line x1="359.40" y1="176.79" x2="359.40" y2="176.10" stroke="#555" stroke-width="0.7"/>
<line x1="357.90" y1="176.10" x2="360.90" y2="176.10" stroke="#555" stroke-width="0.7"/>
<line x1="388.60" y1="175.07" x2="388.60" y2="174.20" stroke="#555" stroke-width="0.7"/>
<line x1="387.10" y1="174.20" x2="390.10" y2="174.20" stroke="#555" stroke-width="0.7"/>
<line x1="446.50" y1="155.77" x2="446.50" y2="154.91" stroke="#555" stroke-width="0.7"/>
<line x1="445.00" y1="154.91" x2="448.00" y2="154.91" stroke="#555" stroke-width="0.7"/>
<line x1="475.70" y1="66.55" x2="475.70" y2="62.07" stroke="#555" stroke-width="0.7"/>
<line x1="474.20" y1="62.07" x2="477.20" y2="62.07" stroke="#555" stroke-width="0.7"/>
<line x1="504.50" y1="149.40" x2="504.50" y2="148.37" stroke="#555" stroke-width="0.7"/>
<line x1="503.00" y1="148.37" x2="506.00" y2="148.37" stroke="#555" stroke-width="0.7"/>
<rect x="347.50" y="176.79" width="23.80" height="2.81" fill="#000"/>
<rect x="376.70" y="175.07" width="23.80" height="4.53" fill="#000"/>
<rect x="405.30" y="144.58" width="24.00" height="35.02" fill="#000"/>
<rect x="434.60" y="155.77" width="23.80" height="23.83" fill="#000"/>
<rect x="464.00" y="66.55" width="23.40" height="113.05" fill="#000"/>
<rect x="492.80" y="149.40" width="23.40" height="30.20" fill="#000"/>
<line x1="345.00" y1="50.00" x2="345.00" y2="179.70" stroke="#000" stroke-width="1.1"/>
<line x1="344.50" y1="179.20" x2="520.00" y2="179.20" stroke="#000" stroke-width="1.1"/>
<line x1="341.10" y1="179.20" x2="345.00" y2="179.20" stroke="#000" stroke-width="1.0"/>
<text transform="translate(340.80,181.58) scale(1,0.93)" font-size="7.2" text-anchor="end" >0</text>
<line x1="342.70" y1="172.31" x2="345.00" y2="172.31" stroke="#111" stroke-width="0.75"/>
<line x1="342.70" y1="165.42" x2="345.00" y2="165.42" stroke="#111" stroke-width="0.75"/>
<line x1="342.70" y1="158.53" x2="345.00" y2="158.53" stroke="#111" stroke-width="0.75"/>
<line x1="342.70" y1="151.64" x2="345.00" y2="151.64" stroke="#111" stroke-width="0.75"/>
<line x1="341.10" y1="144.75" x2="345.00" y2="144.75" stroke="#000" stroke-width="1.0"/>
<text transform="translate(340.80,147.13) scale(1,0.93)" font-size="7.2" text-anchor="end" >100</text>
<line x1="342.70" y1="137.86" x2="345.00" y2="137.86" stroke="#111" stroke-width="0.75"/>
<line x1="342.70" y1="130.97" x2="345.00" y2="130.97" stroke="#111" stroke-width="0.75"/>
<line x1="342.70" y1="124.08" x2="345.00" y2="124.08" stroke="#111" stroke-width="0.75"/>
<line x1="342.70" y1="117.19" x2="345.00" y2="117.19" stroke="#111" stroke-width="0.75"/>
<line x1="341.10" y1="110.30" x2="345.00" y2="110.30" stroke="#000" stroke-width="1.0"/>
<text transform="translate(340.80,112.68) scale(1,0.93)" font-size="7.2" text-anchor="end" >200</text>
<line x1="342.70" y1="103.41" x2="345.00" y2="103.41" stroke="#111" stroke-width="0.75"/>
<line x1="342.70" y1="96.52" x2="345.00" y2="96.52" stroke="#111" stroke-width="0.75"/>
<line x1="342.70" y1="89.63" x2="345.00" y2="89.63" stroke="#111" stroke-width="0.75"/>
<line x1="342.70" y1="82.74" x2="345.00" y2="82.74" stroke="#111" stroke-width="0.75"/>
<line x1="341.10" y1="75.85" x2="345.00" y2="75.85" stroke="#000" stroke-width="1.0"/>
<text transform="translate(340.80,78.23) scale(1,0.93)" font-size="7.2" text-anchor="end" >300</text>
<line x1="342.70" y1="68.96" x2="345.00" y2="68.96" stroke="#111" stroke-width="0.75"/>
<line x1="342.70" y1="62.07" x2="345.00" y2="62.07" stroke="#111" stroke-width="0.75"/>
<line x1="342.70" y1="55.18" x2="345.00" y2="55.18" stroke="#111" stroke-width="0.75"/>
<text transform="translate(316.30,194.34) scale(1,0.93)" font-size="7.4" text-anchor="start" textLength="17.00" lengthAdjust="spacingAndGlyphs" >fMLF</text>
<path d="M358.40,191.90 H360.80" stroke="#000" stroke-width="1.0" fill="none"/>
<path d="M387.40,191.90 H389.80" stroke="#000" stroke-width="1.0" fill="none"/>
<path d="M415.50,191.90 H419.10 M417.30,190.10 V193.70" stroke="#000" stroke-width="1.1" fill="none"/>
<path d="M445.20,191.90 H448.80 M447.00,190.10 V193.70" stroke="#000" stroke-width="1.1" fill="none"/>
<path d="M474.20,191.90 H477.80 M476.00,190.10 V193.70" stroke="#000" stroke-width="1.1" fill="none"/>
<path d="M503.70,191.90 H507.30 M505.50,190.10 V193.70" stroke="#000" stroke-width="1.1" fill="none"/>
<text transform="translate(316.30,203.24) scale(1,0.93)" font-size="7.4" text-anchor="start" textLength="18.50" lengthAdjust="spacingAndGlyphs" >TNF&#945;</text>
<path d="M358.40,200.80 H360.80" stroke="#000" stroke-width="1.0" fill="none"/>
<path d="M386.80,200.80 H390.40 M388.60,199.00 V202.60" stroke="#000" stroke-width="1.1" fill="none"/>
<path d="M416.10,200.80 H418.50" stroke="#000" stroke-width="1.0" fill="none"/>
<path d="M445.80,200.80 H448.20" stroke="#000" stroke-width="1.0" fill="none"/>
<path d="M474.20,200.80 H477.80 M476.00,199.00 V202.60" stroke="#000" stroke-width="1.1" fill="none"/>
<path d="M503.70,200.80 H507.30 M505.50,199.00 V202.60" stroke="#000" stroke-width="1.1" fill="none"/>
<text transform="translate(316.30,212.04) scale(1,0.93)" font-size="7.4" text-anchor="start" textLength="28.50" lengthAdjust="spacingAndGlyphs" >Juglone</text>
<path d="M358.40,209.60 H360.80" stroke="#000" stroke-width="1.0" fill="none"/>
<path d="M387.40,209.60 H389.80" stroke="#000" stroke-width="1.0" fill="none"/>
<path d="M416.10,209.60 H418.50" stroke="#000" stroke-width="1.0" fill="none"/>
<path d="M445.20,209.60 H448.80 M447.00,207.80 V211.40" stroke="#000" stroke-width="1.1" fill="none"/>
<path d="M474.80,209.60 H477.20" stroke="#000" stroke-width="1.0" fill="none"/>
<path d="M503.70,209.60 H507.30 M505.50,207.80 V211.40" stroke="#000" stroke-width="1.1" fill="none"/>
<text transform="translate(326.30,180.80) rotate(-90)" font-size="8.3" textLength="77.60" lengthAdjust="spacingAndGlyphs" >Chemiluminescence</text>
<text transform="translate(326.30,97.70) rotate(-90)" font-size="8.3" textLength="58.90" lengthAdjust="spacingAndGlyphs" >(% of Control)</text>
<path d="M475.20,62.00 V56.20 H505.70 V134.20" stroke="#444" stroke-width="0.8" fill="none" stroke-linejoin="miter"/>
<path d="M505.20,137.00 L505.20,143.80 M508.14,138.70 L502.26,142.10 M508.14,142.10 L502.26,138.70 " stroke="#111" stroke-width="0.75" fill="none"/>
<line x1="359.90" y1="388.65" x2="359.90" y2="387.62" stroke="#555" stroke-width="0.7"/>
<line x1="358.40" y1="387.62" x2="361.40" y2="387.62" stroke="#555" stroke-width="0.7"/>
<line x1="388.80" y1="386.25" x2="388.80" y2="384.54" stroke="#555" stroke-width="0.7"/>
<line x1="387.30" y1="384.54" x2="390.30" y2="384.54" stroke="#555" stroke-width="0.7"/>
<line x1="446.90" y1="373.73" x2="446.90" y2="372.70" stroke="#555" stroke-width="0.7"/>
<line x1="445.40" y1="372.70" x2="448.40" y2="372.70" stroke="#555" stroke-width="0.7"/>
<line x1="475.90" y1="283.18" x2="475.90" y2="280.09" stroke="#555" stroke-width="0.7"/>
<line x1="474.40" y1="280.09" x2="477.40" y2="280.09" stroke="#555" stroke-width="0.7"/>
<line x1="504.80" y1="368.07" x2="504.80" y2="366.70" stroke="#555" stroke-width="0.7"/>
<line x1="503.30" y1="366.70" x2="506.30" y2="366.70" stroke="#555" stroke-width="0.7"/>
<rect x="348.00" y="388.65" width="23.80" height="7.95" fill="#000"/>
<rect x="377.00" y="386.25" width="23.60" height="10.35" fill="#000"/>
<rect x="406.20" y="361.90" width="23.40" height="34.70" fill="#000"/>
<rect x="435.00" y="373.73" width="23.80" height="22.87" fill="#000"/>
<rect x="464.00" y="283.18" width="23.80" height="113.42" fill="#000"/>
<rect x="493.00" y="368.07" width="23.60" height="28.53" fill="#000"/>
<line x1="345.00" y1="267.00" x2="345.00" y2="396.70" stroke="#000" stroke-width="1.1"/>
<line x1="344.50" y1="396.20" x2="520.00" y2="396.20" stroke="#000" stroke-width="1.1"/>
<line x1="341.10" y1="396.20" x2="345.00" y2="396.20" stroke="#000" stroke-width="1.0"/>
<text transform="translate(340.80,398.48) scale(1,0.93)" font-size="6.9" text-anchor="end" >0</text>
<line x1="342.70" y1="392.77" x2="345.00" y2="392.77" stroke="#111" stroke-width="0.75"/>
<line x1="342.70" y1="389.34" x2="345.00" y2="389.34" stroke="#111" stroke-width="0.75"/>
<line x1="342.70" y1="385.91" x2="345.00" y2="385.91" stroke="#111" stroke-width="0.75"/>
<line x1="342.70" y1="382.48" x2="345.00" y2="382.48" stroke="#111" stroke-width="0.75"/>
<line x1="341.10" y1="379.05" x2="345.00" y2="379.05" stroke="#000" stroke-width="1.0"/>
<text transform="translate(340.80,381.33) scale(1,0.93)" font-size="6.9" text-anchor="end" >50</text>
<line x1="342.70" y1="375.62" x2="345.00" y2="375.62" stroke="#111" stroke-width="0.75"/>
<line x1="342.70" y1="372.19" x2="345.00" y2="372.19" stroke="#111" stroke-width="0.75"/>
<line x1="342.70" y1="368.76" x2="345.00" y2="368.76" stroke="#111" stroke-width="0.75"/>
<line x1="342.70" y1="365.33" x2="345.00" y2="365.33" stroke="#111" stroke-width="0.75"/>
<line x1="341.10" y1="361.90" x2="345.00" y2="361.90" stroke="#000" stroke-width="1.0"/>
<text transform="translate(340.80,364.18) scale(1,0.93)" font-size="6.9" text-anchor="end" >100</text>
<line x1="342.70" y1="358.47" x2="345.00" y2="358.47" stroke="#111" stroke-width="0.75"/>
<line x1="342.70" y1="355.04" x2="345.00" y2="355.04" stroke="#111" stroke-width="0.75"/>
<line x1="342.70" y1="351.61" x2="345.00" y2="351.61" stroke="#111" stroke-width="0.75"/>
<line x1="342.70" y1="348.18" x2="345.00" y2="348.18" stroke="#111" stroke-width="0.75"/>
<line x1="341.10" y1="344.75" x2="345.00" y2="344.75" stroke="#000" stroke-width="1.0"/>
<text transform="translate(340.80,347.03) scale(1,0.93)" font-size="6.9" text-anchor="end" >150</text>
<line x1="342.70" y1="341.32" x2="345.00" y2="341.32" stroke="#111" stroke-width="0.75"/>
<line x1="342.70" y1="337.89" x2="345.00" y2="337.89" stroke="#111" stroke-width="0.75"/>
<line x1="342.70" y1="334.46" x2="345.00" y2="334.46" stroke="#111" stroke-width="0.75"/>
<line x1="342.70" y1="331.03" x2="345.00" y2="331.03" stroke="#111" stroke-width="0.75"/>
<line x1="341.10" y1="327.60" x2="345.00" y2="327.60" stroke="#000" stroke-width="1.0"/>
<text transform="translate(340.80,329.88) scale(1,0.93)" font-size="6.9" text-anchor="end" >200</text>
<line x1="342.70" y1="324.17" x2="345.00" y2="324.17" stroke="#111" stroke-width="0.75"/>
<line x1="342.70" y1="320.74" x2="345.00" y2="320.74" stroke="#111" stroke-width="0.75"/>
<line x1="342.70" y1="317.31" x2="345.00" y2="317.31" stroke="#111" stroke-width="0.75"/>
<line x1="342.70" y1="313.88" x2="345.00" y2="313.88" stroke="#111" stroke-width="0.75"/>
<line x1="341.10" y1="310.45" x2="345.00" y2="310.45" stroke="#000" stroke-width="1.0"/>
<text transform="translate(340.80,312.73) scale(1,0.93)" font-size="6.9" text-anchor="end" >250</text>
<line x1="342.70" y1="307.02" x2="345.00" y2="307.02" stroke="#111" stroke-width="0.75"/>
<line x1="342.70" y1="303.59" x2="345.00" y2="303.59" stroke="#111" stroke-width="0.75"/>
<line x1="342.70" y1="300.16" x2="345.00" y2="300.16" stroke="#111" stroke-width="0.75"/>
<line x1="342.70" y1="296.73" x2="345.00" y2="296.73" stroke="#111" stroke-width="0.75"/>
<line x1="341.10" y1="293.30" x2="345.00" y2="293.30" stroke="#000" stroke-width="1.0"/>
<text transform="translate(340.80,295.58) scale(1,0.93)" font-size="6.9" text-anchor="end" >300</text>
<line x1="342.70" y1="289.87" x2="345.00" y2="289.87" stroke="#111" stroke-width="0.75"/>
<line x1="342.70" y1="286.44" x2="345.00" y2="286.44" stroke="#111" stroke-width="0.75"/>
<line x1="342.70" y1="283.01" x2="345.00" y2="283.01" stroke="#111" stroke-width="0.75"/>
<line x1="342.70" y1="279.58" x2="345.00" y2="279.58" stroke="#111" stroke-width="0.75"/>
<line x1="341.10" y1="276.15" x2="345.00" y2="276.15" stroke="#000" stroke-width="1.0"/>
<text transform="translate(340.80,278.43) scale(1,0.93)" font-size="6.9" text-anchor="end" >350</text>
<line x1="342.70" y1="272.72" x2="345.00" y2="272.72" stroke="#111" stroke-width="0.75"/>
<line x1="342.70" y1="269.29" x2="345.00" y2="269.29" stroke="#111" stroke-width="0.75"/>
<text transform="translate(320.00,410.84) scale(1,0.93)" font-size="7.4" text-anchor="start" textLength="17.00" lengthAdjust="spacingAndGlyphs" >fMLF</text>
<path d="M358.80,408.40 H361.20" stroke="#000" stroke-width="1.0" fill="none"/>
<path d="M388.00,408.40 H390.40" stroke="#000" stroke-width="1.0" fill="none"/>
<path d="M416.20,408.40 H419.80 M418.00,406.60 V410.20" stroke="#000" stroke-width="1.1" fill="none"/>
<path d="M445.50,408.40 H449.10 M447.30,406.60 V410.20" stroke="#000" stroke-width="1.1" fill="none"/>
<path d="M473.80,408.40 H477.40 M475.60,406.60 V410.20" stroke="#000" stroke-width="1.1" fill="none"/>
<path d="M504.20,408.40 H507.80 M506.00,406.60 V410.20" stroke="#000" stroke-width="1.1" fill="none"/>
<text transform="translate(320.00,420.84) scale(1,0.93)" font-size="7.4" text-anchor="start" textLength="19.00" lengthAdjust="spacingAndGlyphs" >TNF&#945;</text>
<path d="M358.80,418.40 H361.20" stroke="#000" stroke-width="1.0" fill="none"/>
<path d="M387.40,418.40 H391.00 M389.20,416.60 V420.20" stroke="#000" stroke-width="1.1" fill="none"/>
<path d="M416.80,418.40 H419.20" stroke="#000" stroke-width="1.0" fill="none"/>
<path d="M446.10,418.40 H448.50" stroke="#000" stroke-width="1.0" fill="none"/>
<path d="M473.80,418.40 H477.40 M475.60,416.60 V420.20" stroke="#000" stroke-width="1.1" fill="none"/>
<path d="M504.20,418.40 H507.80 M506.00,416.60 V420.20" stroke="#000" stroke-width="1.1" fill="none"/>
<text transform="translate(320.00,429.44) scale(1,0.93)" font-size="7.4" text-anchor="start" textLength="15.50" lengthAdjust="spacingAndGlyphs" >PPIn</text>
<path d="M358.80,427.00 H361.20" stroke="#000" stroke-width="1.0" fill="none"/>
<path d="M388.00,427.00 H390.40" stroke="#000" stroke-width="1.0" fill="none"/>
<path d="M416.80,427.00 H419.20" stroke="#000" stroke-width="1.0" fill="none"/>
<path d="M445.50,427.00 H449.10 M447.30,425.20 V428.80" stroke="#000" stroke-width="1.1" fill="none"/>
<path d="M474.40,427.00 H476.80" stroke="#000" stroke-width="1.0" fill="none"/>
<path d="M504.20,427.00 H507.80 M506.00,425.20 V428.80" stroke="#000" stroke-width="1.1" fill="none"/>
<text transform="translate(326.80,398.50) rotate(-90)" font-size="8.3" textLength="77.30" lengthAdjust="spacingAndGlyphs" >Chemiluminescence</text>
<text transform="translate(326.80,316.20) rotate(-90)" font-size="8.3" textLength="61.20" lengthAdjust="spacingAndGlyphs" >(% of Control)</text>
<path d="M475.60,280.00 V273.00 H506.20 V349.80" stroke="#444" stroke-width="0.8" fill="none" stroke-linejoin="miter"/>
<path d="M505.70,355.60 L505.70,362.40 M508.64,357.30 L502.76,360.70 M508.64,360.70 L502.76,357.30 " stroke="#111" stroke-width="0.75" fill="none"/>
<line x1="453.90" y1="547.64" x2="453.90" y2="528.85" stroke="#555" stroke-width="0.7"/>
<line x1="452.40" y1="528.85" x2="455.40" y2="528.85" stroke="#555" stroke-width="0.7"/>
<line x1="497.55" y1="571.68" x2="497.55" y2="558.53" stroke="#555" stroke-width="0.7"/>
<line x1="496.05" y1="558.53" x2="499.05" y2="558.53" stroke="#555" stroke-width="0.7"/>
<rect x="355.50" y="641.10" width="22.50" height="1.40" fill="#000"/>
<rect x="399.30" y="566.72" width="22.10" height="75.78" fill="#000"/>
<rect x="442.80" y="547.64" width="22.20" height="94.86" fill="#000"/>
<rect x="486.50" y="571.68" width="22.10" height="70.82" fill="#000"/>
<line x1="345.00" y1="513.50" x2="345.00" y2="642.60" stroke="#000" stroke-width="1.1"/>
<line x1="344.50" y1="642.10" x2="520.00" y2="642.10" stroke="#000" stroke-width="1.1"/>
<line x1="341.10" y1="642.10" x2="345.00" y2="642.10" stroke="#000" stroke-width="1.0"/>
<text transform="translate(340.80,644.44) scale(1,0.93)" font-size="7.1" text-anchor="end" >0</text>
<line x1="342.70" y1="634.59" x2="345.00" y2="634.59" stroke="#111" stroke-width="0.75"/>
<line x1="342.70" y1="627.07" x2="345.00" y2="627.07" stroke="#111" stroke-width="0.75"/>
<line x1="342.70" y1="619.56" x2="345.00" y2="619.56" stroke="#111" stroke-width="0.75"/>
<line x1="342.70" y1="612.04" x2="345.00" y2="612.04" stroke="#111" stroke-width="0.75"/>
<line x1="341.10" y1="604.52" x2="345.00" y2="604.52" stroke="#000" stroke-width="1.0"/>
<text transform="translate(340.80,606.87) scale(1,0.93)" font-size="7.1" text-anchor="end" >50</text>
<line x1="342.70" y1="597.01" x2="345.00" y2="597.01" stroke="#111" stroke-width="0.75"/>
<line x1="342.70" y1="589.50" x2="345.00" y2="589.50" stroke="#111" stroke-width="0.75"/>
<line x1="342.70" y1="581.98" x2="345.00" y2="581.98" stroke="#111" stroke-width="0.75"/>
<line x1="342.70" y1="574.47" x2="345.00" y2="574.47" stroke="#111" stroke-width="0.75"/>
<line x1="341.10" y1="566.95" x2="345.00" y2="566.95" stroke="#000" stroke-width="1.0"/>
<text transform="translate(340.80,569.29) scale(1,0.93)" font-size="7.1" text-anchor="end" >100</text>
<line x1="342.70" y1="559.44" x2="345.00" y2="559.44" stroke="#111" stroke-width="0.75"/>
<line x1="342.70" y1="551.92" x2="345.00" y2="551.92" stroke="#111" stroke-width="0.75"/>
<line x1="342.70" y1="544.40" x2="345.00" y2="544.40" stroke="#111" stroke-width="0.75"/>
<line x1="342.70" y1="536.89" x2="345.00" y2="536.89" stroke="#111" stroke-width="0.75"/>
<line x1="341.10" y1="529.38" x2="345.00" y2="529.38" stroke="#000" stroke-width="1.0"/>
<text transform="translate(340.80,531.72) scale(1,0.93)" font-size="7.1" text-anchor="end" >150</text>
<line x1="342.70" y1="521.86" x2="345.00" y2="521.86" stroke="#111" stroke-width="0.75"/>
<line x1="342.70" y1="514.35" x2="345.00" y2="514.35" stroke="#111" stroke-width="0.75"/>
<text transform="translate(322.00,655.84) scale(1,0.93)" font-size="7.4" text-anchor="start" textLength="15.00" lengthAdjust="spacingAndGlyphs" >PMA</text>
<path d="M364.30,653.40 H366.70" stroke="#000" stroke-width="1.0" fill="none"/>
<path d="M407.50,653.40 H411.10 M409.30,651.60 V655.20" stroke="#000" stroke-width="1.1" fill="none"/>
<path d="M451.70,653.40 H455.30 M453.50,651.60 V655.20" stroke="#000" stroke-width="1.1" fill="none"/>
<path d="M495.60,653.40 H499.20 M497.40,651.60 V655.20" stroke="#000" stroke-width="1.1" fill="none"/>
<text transform="translate(322.00,665.64) scale(1,0.93)" font-size="7.4" text-anchor="start" textLength="28.50" lengthAdjust="spacingAndGlyphs" >Juglone</text>
<path d="M364.30,663.20 H366.70" stroke="#000" stroke-width="1.0" fill="none"/>
<path d="M408.10,663.20 H410.50" stroke="#000" stroke-width="1.0" fill="none"/>
<path d="M451.70,663.20 H455.30 M453.50,661.40 V665.00" stroke="#000" stroke-width="1.1" fill="none"/>
<path d="M496.20,663.20 H498.60" stroke="#000" stroke-width="1.0" fill="none"/>
<text transform="translate(322.00,674.14) scale(1,0.93)" font-size="7.4" text-anchor="start" textLength="15.00" lengthAdjust="spacingAndGlyphs" >PPIn</text>
<path d="M364.30,671.70 H366.70" stroke="#000" stroke-width="1.0" fill="none"/>
<path d="M408.10,671.70 H410.50" stroke="#000" stroke-width="1.0" fill="none"/>
<path d="M452.30,671.70 H454.70" stroke="#000" stroke-width="1.0" fill="none"/>
<path d="M495.60,671.70 H499.20 M497.40,669.90 V673.50" stroke="#000" stroke-width="1.1" fill="none"/>
<text transform="translate(326.80,643.50) rotate(-90)" font-size="8.3" textLength="77.70" lengthAdjust="spacingAndGlyphs" >Chemiluminescence</text>
<text transform="translate(326.80,560.20) rotate(-90)" font-size="8.3" textLength="59.60" lengthAdjust="spacingAndGlyphs" >(% of Control)</text>
</g>
</svg>
</body></html>
